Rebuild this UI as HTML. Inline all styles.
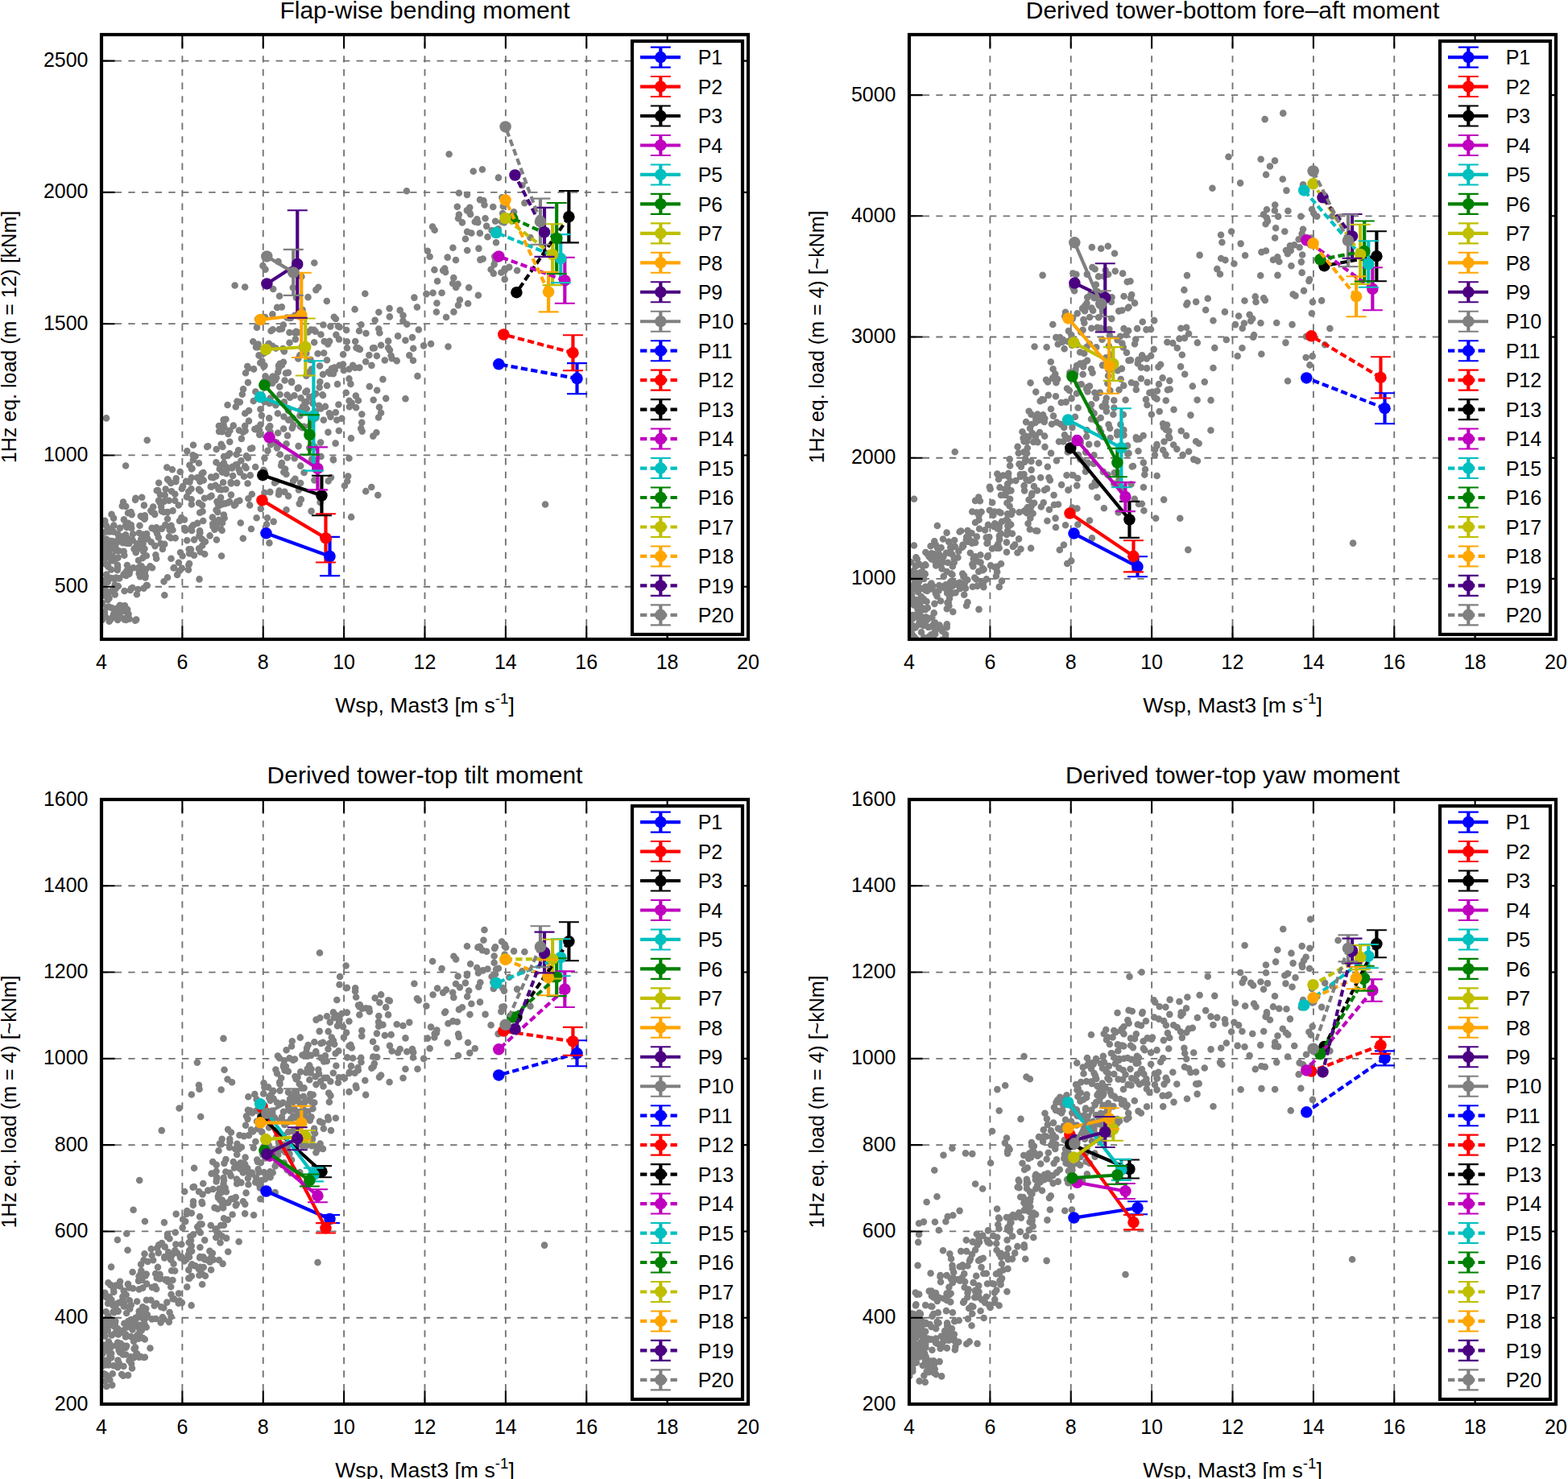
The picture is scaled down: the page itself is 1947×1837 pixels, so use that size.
<!DOCTYPE html><html><head><meta charset="utf-8"><title>chart</title><style>html,body{margin:0;padding:0;background:#fff;font-family:"Liberation Sans",sans-serif}svg{display:block}svg text{font-family:"Liberation Sans",sans-serif;fill:#000}</style></head><body><svg width="1947" height="1837" viewBox="0 0 1947 1837">
<rect width="1947" height="1837" fill="#fff"/>
<clipPath id="clip0"><rect x="126" y="43" width="803" height="751"/></clipPath>
<path d="M226.38 794V43M326.75 794V43M427.12 794V43M527.5 794V43M627.88 794V43M728.25 794V43M828.62 794V43M126 728.7H929M126 565.43H929M126 402.17H929M126 238.91H929M126 75.65H929" fill="none" stroke="#727272" stroke-width="1.85" stroke-dasharray="8.33 8.33"/>
<g clip-path="url(#clip0)">
<path d="M147.64 666.32h0M136.43 657.15h0M126.71 749.13h0M135.79 683.2h0M134.05 739.86h0M130.64 674.25h0M138.39 734.3h0M146.42 663.29h0M129.95 693.66h0M140.4 718.48h0M142.86 732h0M129.01 739.77h0M129.18 720.79h0M129.57 688.82h0M134.45 703.84h0M130.3 670.08h0M131.97 652.68h0M143.28 678.47h0M142.77 738.49h0M131.86 669.49h0M137.18 682.17h0M148.9 655.89h0M134.44 672.15h0M134 720.69h0M130.22 646.93h0M134.44 656.85h0M134.92 690.93h0M135.9 660.36h0M134.05 691.64h0M133.7 722.95h0M130.21 688.05h0M141.09 643.65h0M138.17 707.49h0M137.06 679.73h0M146.31 755.03h0M144.16 730.34h0M138 696.34h0M130.19 646.81h0M141.34 652.61h0M148.85 751.68h0M138.06 695.89h0M149.07 759.63h0M148.16 718.41h0M144.25 717.61h0M146.75 727.97h0M142.71 726.17h0M137.7 717.98h0M131.74 734.14h0M131.62 734.67h0M141.57 696.31h0M136.41 689.57h0M147.74 684.27h0M131.56 700.91h0M132.23 713.56h0M143.92 684.06h0M139.27 690.54h0M128.12 731.42h0M133.77 745.26h0M145.75 708.08h0M139.41 681.15h0M128.54 680.44h0M126.22 663.69h0M126.59 722.41h0M139.93 672.34h0M140.98 660.53h0M140.49 681.08h0M145.91 701.83h0M132.34 680.45h0M146.49 692.65h0M138.21 659.93h0M131.45 660.41h0M136.61 671.76h0M132.13 683.81h0M146.14 704.85h0M146.84 669.91h0M146.15 672.96h0M150.73 672.07h0M138.67 673.75h0M135.51 743.14h0M128.79 725.77h0M163.25 655.92h0M175.09 669.7h0M156.68 714.92h0M160.48 675.07h0M158.54 668.9h0M164.45 729.94h0M168.5 618.69h0M172.73 662.06h0M151.73 628.45h0M173.95 716.17h0M172.59 704.66h0M152.34 752.88h0M162.77 652.08h0M156.3 629.05h0M159.19 649.91h0M171.39 732h0M158.99 637.23h0M156.21 651.97h0M162.57 636.13h0M173.49 652.69h0M166.56 681.9h0M173.76 679.61h0M175.94 641.85h0M157.28 709h0M175.37 703.66h0M153.5 713.58h0M167.86 680.69h0M168.01 620.83h0M165.61 705.28h0M154.56 733.93h0M152.9 666.28h0M153.01 623.53h0M160.46 712.64h0M153.64 684.9h0M169.9 738.28h0M172.72 712.53h0M157.95 702h0M156.11 664.19h0M165.03 663.21h0M155.38 711.75h0M172.02 696.07h0M164.61 670.84h0M175.74 703.3h0M161.21 706.43h0M172.55 707.89h0M153.62 672.67h0M153.89 645.36h0M157.13 674.65h0M173.18 704.87h0M163.64 639.1h0M168.76 686.24h0M152.6 674.31h0M158.8 761.96h0M160.87 710.04h0M174.75 640.99h0M161.78 733.05h0M172.8 681.05h0M170.14 675.29h0M157.43 655.06h0M154.35 689.68h0M195.97 608.95h0M192.47 678.15h0M177.23 670.79h0M199.61 675.15h0M190.19 629.44h0M180.32 717.41h0M179.49 681.56h0M179.77 711.36h0M198.96 614.54h0M200.95 656.64h0M181.71 665.81h0M181.73 727.17h0M188.58 655.89h0M183.43 669.36h0M200.74 634.75h0M193.15 658.74h0M197.18 599.81h0M182.17 662.98h0M198.53 624.26h0M194.7 609.21h0M193.36 689.18h0M177.6 675.08h0M180.63 715.57h0M197.06 621.68h0M187.71 673.33h0M194.23 655.31h0M194.14 693.73h0M178.05 684.96h0M178.49 730.64h0M179.37 644.68h0M178.89 627.62h0M181.86 690.22h0M191.67 637.53h0M176.32 706.44h0M200.12 629.47h0M195.17 662.75h0M188.62 635.92h0M186.43 703.21h0M179.83 640.24h0M196.81 667.57h0M192.21 638.92h0M198.52 622.36h0M182.8 727.17h0M177.63 663.76h0M187.34 634.23h0M188.96 705.19h0M198.35 623.66h0M177.21 693.08h0M179.92 643.55h0M181.21 706.93h0M225.33 643.13h0M208.02 717.27h0M218.33 598.18h0M212.18 668.31h0M213.89 583.29h0M207.28 580.58h0M212.21 599.95h0M204.32 739.31h0M213.08 610.32h0M220.11 713.9h0M212.49 693.78h0M209.81 621.76h0M217.75 668.33h0M208.05 595.27h0M210.54 666.43h0M212.52 652.83h0M209.2 596.42h0M210.64 658.11h0M209.84 666.67h0M204.75 614.93h0M223.67 585.99h0M203.52 722.33h0M217.17 621.69h0M208 644.48h0M221.92 698.68h0M212.56 654.34h0M222.55 709.24h0M201.86 682.03h0M216.08 705.07h0M221.72 627.48h0M225.84 607.06h0M204.25 675.88h0M208.09 636.1h0M214.44 658.33h0M215.56 705.55h0M205.31 652.09h0M223 646.96h0M205.68 607.61h0M214.58 634.41h0M217.34 613.79h0M218.67 594.41h0M203.35 636.07h0M223.99 686.19h0M225.88 705.83h0M203.9 622.83h0M248.36 661.75h0M239.84 571.21h0M232.29 560.34h0M238.13 659.03h0M248.15 636.74h0M237.82 626.42h0M247.53 719.38h0M236.29 686.01h0M242.57 566.78h0M239.56 565.24h0M239.95 652.36h0M228.99 645.57h0M251.13 627.46h0M237.88 582.38h0M249.2 592.09h0M230.21 658.74h0M235.36 577.77h0M235.54 598.62h0M250.6 594.17h0M241.09 670.42h0M231.09 597.75h0M237.47 607.31h0M244.87 593.24h0M234.62 682.27h0M240.95 689.74h0M234.26 701.76h0M248.08 660.48h0M240.01 552.71h0M237.65 620.31h0M237.69 654.97h0M250.61 588.28h0M226.63 690.47h0M235.07 699.97h0M235.17 687.56h0M248.77 609.71h0M227.1 603.98h0M231.91 617.16h0M247.4 665.62h0M246.99 624.71h0M248.41 598.21h0M251.14 677.74h0M237.02 682.42h0M232.25 671.21h0M247.02 681.26h0M229.19 655.99h0M248.69 685.53h0M246.91 575.27h0M233.93 707.68h0M238.5 581.88h0M248.08 659.2h0M234.26 610.63h0M246.94 607.86h0M250.69 669.45h0M237.78 593.22h0M245.19 649.88h0M268.72 558.01h0M273.25 578.31h0M276.43 554.99h0M272.72 582.45h0M274.67 551.73h0M268.46 574.3h0M268.57 633.42h0M261.73 604.39h0M274.5 657.21h0M264.19 650.73h0M276.02 649.41h0M275.87 536.11h0M271.76 645.91h0M260.41 617.24h0M254.2 688.19h0M254.89 672.75h0M271.11 605.27h0M271.88 529.06h0M270.81 626.11h0M262.52 604.65h0M274.14 617.98h0M263.87 642.57h0M266.47 657.61h0M253.94 618.73h0M268.92 670.45h0M252.23 647h0M264.92 593.31h0M275.93 586.56h0M275.65 658.67h0M258.29 554.19h0M267.61 602.92h0M260.63 665.42h0M264.48 653.93h0M272.06 535.85h0M270.28 635.89h0M262.59 615.88h0M268.55 652.22h0M274.96 608.19h0M272.23 627.97h0M252.76 596.54h0M268.22 591.39h0M251.57 635.18h0M269.43 623.04h0M252.43 586.97h0M269.12 648.44h0M273.55 623.11h0M257.2 554.89h0M271.49 607.75h0M262.09 592.62h0M276.35 626.2h0M282.8 565.91h0M277.46 576.9h0M285.28 548.69h0M283.13 624.37h0M289.79 528.66h0M293.92 623.42h0M278.53 531.18h0M288.63 579.71h0M289.17 591.04h0M278 574.93h0M294.14 576.99h0M280.29 607.79h0M285.2 563.38h0M299.41 572.28h0M283.26 538.84h0M298.02 586.73h0M277.49 526.89h0M281.12 588.29h0M285.45 534.82h0M286.95 600.44h0M285 623.1h0M277.13 599.31h0M299.88 544.87h0M286.92 614.6h0M282.55 503.05h0M296.67 583.3h0M293.73 564.4h0M288.05 581.47h0M278.65 643.5h0M294.22 599.84h0M278.05 567.1h0M280.44 520.81h0M292.09 626.73h0M278.41 586.36h0M292.76 505.2h0M280.89 579.96h0M296 559.2h0M277.63 521.39h0M290.98 627.75h0M277.89 639.66h0M297.42 621.7h0M298.76 649.48h0M286.66 599.07h0M279.63 625.41h0M292.79 577.22h0M296.91 534.47h0M300.82 489.73h0M297.83 499.44h0M294.47 498.52h0M283.24 581.67h0M307.95 475.09h0M305.58 581.22h0M311.97 657.06h0M323.85 631.85h0M320.01 396.26h0M320.6 427.46h0M317.94 431.21h0M310.74 590.38h0M314.29 424.27h0M318.64 643.27h0M316.32 533.08h0M304.27 513.43h0M301.94 536.72h0M308.45 457.26h0M307.96 568.68h0M322.84 491.97h0M304.59 535h0M313.18 556.6h0M307.57 600.54h0M320 431.12h0M304.26 579.25h0M324.84 516.12h0M318.96 406.65h0M323.36 508.21h0M310.19 627.42h0M301.77 668.77h0M319.23 531.67h0M311.01 557.24h0M323.45 527.52h0M307.29 455.01h0M317.33 486.55h0M323.25 450.77h0M318.24 533.13h0M322.04 534.23h0M314.74 498.08h0M315.08 458.39h0M305.03 463.31h0M309.07 510.08h0M317.17 580h0M304.16 529.05h0M302.05 483.4h0M308.33 619.27h0M305.92 566.39h0M312.81 613.83h0M308.97 522.86h0M302.96 591.71h0M325.36 448.57h0M326.43 330.13h0M322.2 539.85h0M321.51 441.4h0M345.17 537.81h0M334.42 674.36h0M346.8 408.99h0M333.11 427.44h0M329.5 467.36h0M346.11 552.58h0M335.36 611.09h0M341.56 549.76h0M338.37 390.39h0M327.2 474.57h0M349.95 574.98h0M347.55 489.97h0M334.22 519.37h0M339.69 647.84h0M338.7 467.65h0M336 552.18h0M346.04 614.32h0M347.55 451.79h0M328.15 585.04h0M327.27 583.75h0M347.21 480.4h0M349.85 381.35h0M346.03 453.94h0M328.46 499.29h0M341.06 599.76h0M327.88 438.71h0M327.98 474.13h0M328.48 454.08h0M338.67 409.31h0M329.06 393.97h0M335.2 529.38h0M350.02 408.47h0M343.33 597.93h0M331.95 643.32h0M335.64 494.66h0M346.39 457.24h0M346.46 610.86h0M345.14 462.29h0M349.2 578.15h0M329.48 334.62h0M334 470.96h0M327.53 455.44h0M334.61 500.93h0M343.28 469.3h0M331.05 651.18h0M344.93 513.52h0M346.66 609.67h0M333.4 531.79h0M351.34 432.97h0M349.96 453.38h0M339.24 359.05h0M344.06 556.38h0M334.7 429.62h0M344.12 381.88h0M332.41 559.91h0M332.22 434.39h0M342.39 503.13h0M333.91 426.82h0M347.05 367.73h0M338.17 475.92h0M328.45 569.12h0M341.68 472.33h0M338.3 429.78h0M347.85 564.45h0M345.54 324.88h0M336.56 411.06h0M343.36 549.51h0M335.62 536.52h0M342.17 549.3h0M342.56 432.58h0M328.39 612.05h0M327.31 585.68h0M354.97 463.49h0M371.73 625.62h0M367.7 411.81h0M373.05 509.46h0M353.6 472.44h0M375.4 531.22h0M352.91 436.36h0M374.87 431.61h0M367.89 369.68h0M369.56 412.89h0M352.15 532.58h0M351.89 403.54h0M372.33 441.36h0M352.46 517.54h0M355.56 551.29h0M351.97 449.76h0M359.5 425.69h0M364.02 597.66h0M376.84 506.66h0M356.59 490.51h0M362.06 473.75h0M359.55 394.9h0M362.79 531.67h0M372.44 516.15h0M363.72 519.29h0M358.28 521.82h0M373.57 494.26h0M360.01 493.78h0M366.86 421.35h0M375.6 384.81h0M358.01 509.87h0M358.09 616.17h0M361.13 520.89h0M362.09 475.03h0M357.9 462.87h0M355.44 588.93h0M352.82 501.57h0M363.81 357.25h0M366.01 413.32h0M365.69 569.2h0M353.38 610.9h0M355.58 633.24h0M357.06 541.15h0M365.49 491.22h0M370.74 481.62h0M375.15 429.68h0M373.27 578.67h0M369.71 482.36h0M365.96 391.69h0M359.47 412.93h0M366.46 594.82h0M357.96 507.34h0M352.02 434.48h0M356.68 568.43h0M356.36 394.46h0M370.95 608.52h0M364.15 527.91h0M373.83 620.4h0M361.01 394.88h0M374.4 343.5h0M376.05 505.05h0M370.62 554.09h0M352.29 586.49h0M352.84 499.26h0M372.8 529.6h0M373.15 600.06h0M354.14 582.53h0M370.29 445.42h0M398.55 567h0M392.37 360.15h0M384.78 446.75h0M377.56 587.06h0M401.48 403.57h0M382.6 412.49h0M389.92 409.77h0M392.53 571.9h0M392.27 488.94h0M390.38 596.36h0M398.57 507.36h0M401.82 521.71h0M386.85 458.58h0M384.53 528.96h0M400.99 490.96h0M395.98 503.78h0M386.22 409.61h0M397.31 474.36h0M400.97 465.08h0M384.24 556.37h0M385.26 463.34h0M397.62 623.96h0M380.77 507.74h0M382.49 369.15h0M385.59 446.91h0M388 552.56h0M384.33 493.37h0M392.45 518.93h0M387.07 570.37h0M386.49 527.01h0M379.37 487.04h0M390.29 326.45h0M391.89 511.39h0M378.56 499.18h0M396.69 481.11h0M388.49 500.85h0M390.43 520.2h0M386.57 634.89h0M394.59 439.22h0M390.18 425.27h0M388.71 492.04h0M380.27 499.61h0M400.5 490.42h0M381.78 462.76h0M395.38 356.74h0M392.47 582.71h0M398.46 415.45h0M391.11 555.34h0M380.4 466.67h0M380.31 438.7h0M377.29 529.8h0M397.07 454.54h0M398.12 549.59h0M391.71 411.74h0M381.03 485.5h0M413.95 571.33h0M415.73 459.55h0M418.29 521.74h0M407.21 427.37h0M403.93 504.92h0M413.81 570.65h0M402.79 424.16h0M409.8 464h0M405.98 447.24h0M414.8 393.7h0M421.48 453.74h0M405.8 373.96h0M426.86 459.9h0M410.36 405.35h0M421.67 406.17h0M406.04 478.99h0M426.12 440.21h0M407.8 462.04h0M420.39 502.5h0M416.9 396.01h0M416.61 550.66h0M410.98 593.1h0M410.46 517.6h0M419.95 405.15h0M407.41 536.84h0M419.01 477.14h0M402.16 438.51h0M408.85 513.22h0M409.11 423.68h0M413.85 464.28h0M416.83 512.29h0M424.4 519.76h0M408.23 424.81h0M415.17 456.59h0M411.82 457.83h0M421.02 421.42h0M426.01 452.54h0M417.37 415.86h0M407.69 597.43h0M420.83 535.03h0M433.62 497.75h0M435.95 544.35h0M441.2 424.04h0M444.4 432.92h0M442.5 432.07h0M436.73 500.66h0M448.21 532.15h0M449.3 514.51h0M429.74 487.79h0M449.24 524.87h0M441.86 491.6h0M441.07 456.78h0M430.92 432.21h0M449.66 535.61h0M433.47 470.42h0M438.14 453.9h0M446.86 433.91h0M448.47 403.23h0M430.14 410.02h0M431.21 597.67h0M435.4 476.88h0M442.13 506.31h0M430.83 424.21h0M440.58 384.17h0M444.75 432.34h0M433.88 505.24h0M444.94 497.47h0M427.92 603.29h0M433.47 569.2h0M446.35 456.6h0M446.04 410.93h0M433.5 458.44h0M458.8 479.96h0M467.93 442.08h0M473.09 512.79h0M463.35 541.65h0M475.43 471.16h0M470.05 518.56h0M454.5 414h0M464.82 432.24h0M470.23 408.45h0M463.7 496.73h0M458.33 441.12h0M465.64 397.71h0M471.37 413.52h0M468.19 484.7h0M473.11 428.73h0M461.44 453.89h0M453.31 364.7h0M467.4 537.25h0M454.16 449.29h0M470.98 505.71h0M463.04 432.4h0M470.32 387.78h0M482.15 423.64h0M500.53 391.72h0M483.94 434.84h0M492.74 448.17h0M479.2 494.85h0M482.08 432.07h0M500.42 398.56h0M485.63 441.71h0M486.62 445.14h0M496.74 385.4h0M483.59 383.1h0M494.14 417.4h0M477.83 447.48h0M483.84 393.38h0M503.47 495.21h0M505.26 402.79h0M514.39 369.59h0M526.09 429.35h0M517.9 381.49h0M513.2 432.82h0M519.82 409.44h0M503.43 422.68h0M513.01 447.72h0M508.3 441.37h0M511.98 419.1h0M518.47 467.14h0M537.62 363.83h0M552.22 333.62h0M543.09 349.26h0M548.6 363.7h0M550.18 335.85h0M529.39 365.14h0M542.45 376.49h0M530.92 311.83h0M537.11 281.62h0M539.7 285.72h0M535.08 427.11h0M539.42 335.17h0M541.9 387.56h0M533.67 318.75h0M553.15 338.04h0M569.07 271.19h0M563.41 387.39h0M562.4 307.68h0M568.62 352.92h0M562.21 351.94h0M569.9 266.6h0M555.7 319.65h0M567.8 256.8h0M569.92 239.79h0M570.96 372.57h0M573.94 276.38h0M554.05 393.99h0M568.97 379.11h0M556.5 430.57h0M566 322.95h0M566.17 356.91h0M563.31 345.16h0M583.3 257.75h0M577.93 296.74h0M580.12 287.85h0M592.28 272.26h0M580.21 310.94h0M579.85 261.37h0M584.12 266.18h0M595.88 289.64h0M596.03 248.11h0M594.43 308.59h0M601.5 254.56h0M598.9 210.45h0M602.59 271.26h0M582.18 357.31h0M585.33 289.47h0M589.77 275.49h0M593.41 276.22h0M579.98 241.87h0M593.9 366.8h0M600.45 249.39h0M599.72 321.46h0M596.35 322.62h0M583.46 264.54h0M581.1 377.03h0M604.19 280.91h0M625.84 336.52h0M624.16 264.94h0M614.15 318.65h0M626.69 333.89h0M626.93 335.51h0M626.71 346.9h0M622.36 338.43h0M612.3 257h0M614.99 322.97h0M615.08 274.78h0M610.62 286.18h0M616.01 301.2h0M626.02 276.55h0M618.62 284.22h0M613.66 289.73h0M612.83 339.61h0M605.51 294.27h0M623.37 245.3h0M624.84 256.18h0M623.09 275.51h0M609.62 334.69h0M618.96 220.63h0M613.66 328.41h0M628.18 269.15h0M638.1 263.22h0M648.35 230.19h0M632.27 331.84h0M651.38 252.17h0M642.16 335.93h0M658.51 295.1h0M148.08 764.24h0M132.61 754.25h0M126.31 761.62h0M168.83 770.16h0M152.43 759.31h0M127.95 764.12h0M159.54 762.65h0M160.57 768.61h0M137.35 769.55h0M150.14 753.09h0M154.15 756.12h0M144.29 756.69h0M130.85 765.9h0M158.15 757.11h0M146.11 770.02h0M138.72 767.55h0M139.41 755.41h0M135.51 753.85h0M167.93 770.69h0M144.06 761.84h0M127.12 763.2h0M169.22 769.53h0M154.46 769.34h0M153.59 753.67h0M135.68 771.63h0M129.98 760.87h0M126.83 770.08h0M149.68 753.15h0M146.03 763.74h0M156.45 769.91h0M153.64 768.3h0M155.03 752.4h0M128.58 760.56h0M154.91 768.77h0M132.02 519.4h0M182.71 546.82h0M291.62 354.5h0M677.06 626.49h0M275.06 690.49h0M436.16 642.17h0M469.28 615.07h0M461.25 604.94h0M454.23 610.17h0M432.14 591.56h0M138.55 638.9h0M156.11 578.5h0M176.19 617.68h0M141.06 762.98h0M504.92 237.28h0M557.61 191.57h0M587.72 212.79h0M304.17 356.46h0" fill="none" stroke="#808080" stroke-width="8.6" stroke-linecap="round"/>
</g>
<path d="M409.5 666.9V715.1" stroke="#0000ff" stroke-width="4.17" fill="none"/>
<path d="M404.47 638.3V698.5" stroke="#ff0000" stroke-width="4.17" fill="none"/>
<path d="M399.44 590.7V640.3" stroke="#000000" stroke-width="4.17" fill="none"/>
<path d="M394.41 555.4V608.4" stroke="#bf00bf" stroke-width="4.17" fill="none"/>
<path d="M389.38 448.2V584.6" stroke="#00bfbf" stroke-width="4.17" fill="none"/>
<path d="M384.35 515.4V564.6" stroke="#008000" stroke-width="4.17" fill="none"/>
<path d="M379.32 395.5V466.5" stroke="#bfbf00" stroke-width="4.17" fill="none"/>
<path d="M374.29 338.8V444" stroke="#ffa500" stroke-width="4.17" fill="none"/>
<path d="M369.26 261.3V394.7" stroke="#4b0082" stroke-width="4.17" fill="none"/>
<path d="M364.23 309.9V366.9" stroke="#808080" stroke-width="4.17" fill="none"/>
<path d="M716.5 451.1V489.1" stroke="#0000ff" stroke-width="4.17" fill="none"/>
<path d="M711.44 416.2V460.2" stroke="#ff0000" stroke-width="4.17" fill="none"/>
<path d="M706.38 237V301.4" stroke="#000000" stroke-width="4.17" fill="none"/>
<path d="M701.32 319.8V376.8" stroke="#bf00bf" stroke-width="4.17" fill="none"/>
<path d="M696.26 291.1V351.1" stroke="#00bfbf" stroke-width="4.17" fill="none"/>
<path d="M691.2 252V340" stroke="#008000" stroke-width="4.17" fill="none"/>
<path d="M686.14 278.3V354.1" stroke="#bfbf00" stroke-width="4.17" fill="none"/>
<path d="M681.08 337.8V387.4" stroke="#ffa500" stroke-width="4.17" fill="none"/>
<path d="M676.02 257.9V318.9" stroke="#4b0082" stroke-width="4.17" fill="none"/>
<path d="M670.96 246.6V303.8" stroke="#808080" stroke-width="4.17" fill="none"/>
<path d="M409.5 691L330.5 662.3" stroke="#0000ff" stroke-width="4.17" fill="none"/>
<circle cx="330.5" cy="662.3" r="7.25" fill="#0000ff"/><circle cx="409.5" cy="691" r="7.25" fill="#0000ff"/>
<path d="M397 666.9h25M397 715.1h25" stroke="#0000ff" stroke-width="2.08" fill="none"/>
<path d="M404.47 668.4L325.45 621.4" stroke="#ff0000" stroke-width="4.17" fill="none"/>
<circle cx="325.45" cy="621.4" r="7.25" fill="#ff0000"/><circle cx="404.47" cy="668.4" r="7.25" fill="#ff0000"/>
<path d="M391.97 638.3h25M391.97 698.5h25" stroke="#ff0000" stroke-width="2.08" fill="none"/>
<path d="M399.44 615.5L326.3 590.2" stroke="#000000" stroke-width="4.17" fill="none"/>
<circle cx="326.3" cy="590.2" r="7.25" fill="#000000"/><circle cx="399.44" cy="615.5" r="7.25" fill="#000000"/>
<path d="M386.94 590.7h25M386.94 640.3h25" stroke="#000000" stroke-width="2.08" fill="none"/>
<path d="M394.41 581.9L334.55 543.3" stroke="#bf00bf" stroke-width="4.17" fill="none"/>
<circle cx="334.55" cy="543.3" r="7.25" fill="#bf00bf"/><circle cx="394.41" cy="581.9" r="7.25" fill="#bf00bf"/>
<path d="M381.91 555.4h25M381.91 608.4h25" stroke="#bf00bf" stroke-width="2.08" fill="none"/>
<path d="M389.38 516.4L323.2 493.2" stroke="#00bfbf" stroke-width="4.17" fill="none"/>
<circle cx="323.2" cy="493.2" r="7.25" fill="#00bfbf"/><circle cx="389.38" cy="516.4" r="7.25" fill="#00bfbf"/>
<path d="M376.88 448.2h25M376.88 584.6h25" stroke="#00bfbf" stroke-width="2.08" fill="none"/>
<path d="M384.35 540L328.4 478.4" stroke="#008000" stroke-width="4.17" fill="none"/>
<circle cx="328.4" cy="478.4" r="7.25" fill="#008000"/><circle cx="384.35" cy="540" r="7.25" fill="#008000"/>
<path d="M371.85 515.4h25M371.85 564.6h25" stroke="#008000" stroke-width="2.08" fill="none"/>
<path d="M379.32 431L330.2 434" stroke="#bfbf00" stroke-width="4.17" fill="none"/>
<circle cx="330.2" cy="434" r="7.25" fill="#bfbf00"/><circle cx="379.32" cy="431" r="7.25" fill="#bfbf00"/>
<path d="M366.82 395.5h25M366.82 466.5h25" stroke="#bfbf00" stroke-width="2.08" fill="none"/>
<path d="M374.29 391.4L323.4 397" stroke="#ffa500" stroke-width="4.17" fill="none"/>
<circle cx="323.4" cy="397" r="7.25" fill="#ffa500"/><circle cx="374.29" cy="391.4" r="7.25" fill="#ffa500"/>
<path d="M361.79 338.8h25M361.79 444h25" stroke="#ffa500" stroke-width="2.08" fill="none"/>
<path d="M369.26 328L331.4 352.4" stroke="#4b0082" stroke-width="4.17" fill="none"/>
<circle cx="331.4" cy="352.4" r="7.25" fill="#4b0082"/><circle cx="369.26" cy="328" r="7.25" fill="#4b0082"/>
<path d="M356.76 261.3h25M356.76 394.7h25" stroke="#4b0082" stroke-width="2.08" fill="none"/>
<path d="M364.23 338.4L331.3 318.4" stroke="#808080" stroke-width="4.17" fill="none"/>
<circle cx="331.3" cy="318.4" r="7.25" fill="#808080"/><circle cx="364.23" cy="338.4" r="7.25" fill="#808080"/>
<path d="M351.73 309.9h25M351.73 366.9h25" stroke="#808080" stroke-width="2.08" fill="none"/>
<path d="M716.5 470.1L619.3 452.3" stroke="#0000ff" stroke-width="4.17" fill="none" stroke-dasharray="8.33 4.17"/>
<circle cx="619.3" cy="452.3" r="7.25" fill="#0000ff"/><circle cx="716.5" cy="470.1" r="7.25" fill="#0000ff"/>
<path d="M704 451.1h25M704 489.1h25" stroke="#0000ff" stroke-width="2.08" fill="none"/>
<path d="M711.44 438.2L625.3 415.5" stroke="#ff0000" stroke-width="4.17" fill="none" stroke-dasharray="8.33 4.17"/>
<circle cx="625.3" cy="415.5" r="7.25" fill="#ff0000"/><circle cx="711.44" cy="438.2" r="7.25" fill="#ff0000"/>
<path d="M698.94 416.2h25M698.94 460.2h25" stroke="#ff0000" stroke-width="2.08" fill="none"/>
<path d="M706.38 269.2L641.4 363.2" stroke="#000000" stroke-width="4.17" fill="none" stroke-dasharray="8.33 4.17"/>
<circle cx="641.4" cy="363.2" r="7.25" fill="#000000"/><circle cx="706.38" cy="269.2" r="7.25" fill="#000000"/>
<path d="M693.88 237h25M693.88 301.4h25" stroke="#000000" stroke-width="2.08" fill="none"/>
<path d="M701.32 348.3L619.3 318.4" stroke="#bf00bf" stroke-width="4.17" fill="none" stroke-dasharray="8.33 4.17"/>
<circle cx="619.3" cy="318.4" r="7.25" fill="#bf00bf"/><circle cx="701.32" cy="348.3" r="7.25" fill="#bf00bf"/>
<path d="M688.82 319.8h25M688.82 376.8h25" stroke="#bf00bf" stroke-width="2.08" fill="none"/>
<path d="M696.26 321.1L616.2 289" stroke="#00bfbf" stroke-width="4.17" fill="none" stroke-dasharray="8.33 4.17"/>
<circle cx="616.2" cy="289" r="7.25" fill="#00bfbf"/><circle cx="696.26" cy="321.1" r="7.25" fill="#00bfbf"/>
<path d="M683.76 291.1h25M683.76 351.1h25" stroke="#00bfbf" stroke-width="2.08" fill="none"/>
<path d="M691.2 296L636.3 271.3" stroke="#008000" stroke-width="4.17" fill="none" stroke-dasharray="8.33 4.17"/>
<circle cx="636.3" cy="271.3" r="7.25" fill="#008000"/><circle cx="691.2" cy="296" r="7.25" fill="#008000"/>
<path d="M678.7 252h25M678.7 340h25" stroke="#008000" stroke-width="2.08" fill="none"/>
<path d="M686.14 316.2L627.5 271" stroke="#bfbf00" stroke-width="4.17" fill="none" stroke-dasharray="8.33 4.17"/>
<circle cx="627.5" cy="271" r="7.25" fill="#bfbf00"/><circle cx="686.14" cy="316.2" r="7.25" fill="#bfbf00"/>
<path d="M673.64 278.3h25M673.64 354.1h25" stroke="#bfbf00" stroke-width="2.08" fill="none"/>
<path d="M681.08 362.6L627.5 248.5" stroke="#ffa500" stroke-width="4.17" fill="none" stroke-dasharray="8.33 4.17"/>
<circle cx="627.5" cy="248.5" r="7.25" fill="#ffa500"/><circle cx="681.08" cy="362.6" r="7.25" fill="#ffa500"/>
<path d="M668.58 337.8h25M668.58 387.4h25" stroke="#ffa500" stroke-width="2.08" fill="none"/>
<path d="M676.02 288.4L639.5 217.5" stroke="#4b0082" stroke-width="4.17" fill="none" stroke-dasharray="8.33 4.17"/>
<circle cx="639.5" cy="217.5" r="7.25" fill="#4b0082"/><circle cx="676.02" cy="288.4" r="7.25" fill="#4b0082"/>
<path d="M663.52 257.9h25M663.52 318.9h25" stroke="#4b0082" stroke-width="2.08" fill="none"/>
<path d="M670.96 275.2L627.6 157.4" stroke="#808080" stroke-width="4.17" fill="none" stroke-dasharray="8.33 4.17"/>
<circle cx="627.6" cy="157.4" r="7.25" fill="#808080"/><circle cx="670.96" cy="275.2" r="7.25" fill="#808080"/>
<path d="M658.46 246.6h25M658.46 303.8h25" stroke="#808080" stroke-width="2.08" fill="none"/>
<path d="M126 794v-16.7M126 43v16.7M226.38 794v-16.7M226.38 43v16.7M326.75 794v-16.7M326.75 43v16.7M427.12 794v-16.7M427.12 43v16.7M527.5 794v-16.7M527.5 43v16.7M627.88 794v-16.7M627.88 43v16.7M728.25 794v-16.7M728.25 43v16.7M828.62 794v-16.7M828.62 43v16.7M929 794v-16.7M929 43v16.7M126 728.7h16.7M929 728.7h-16.7M126 565.43h16.7M929 565.43h-16.7M126 402.17h16.7M929 402.17h-16.7M126 238.91h16.7M929 238.91h-16.7M126 75.65h16.7M929 75.65h-16.7" fill="none" stroke="#000" stroke-width="2.08"/>
<rect x="126" y="43" width="803" height="751" fill="none" stroke="#000" stroke-width="4.17"/>
<text x="126" y="830.8" font-size="25" text-anchor="middle">4</text>
<text x="226.38" y="830.8" font-size="25" text-anchor="middle">6</text>
<text x="326.75" y="830.8" font-size="25" text-anchor="middle">8</text>
<text x="427.12" y="830.8" font-size="25" text-anchor="middle">10</text>
<text x="527.5" y="830.8" font-size="25" text-anchor="middle">12</text>
<text x="627.88" y="830.8" font-size="25" text-anchor="middle">14</text>
<text x="728.25" y="830.8" font-size="25" text-anchor="middle">16</text>
<text x="828.62" y="830.8" font-size="25" text-anchor="middle">18</text>
<text x="929" y="830.8" font-size="25" text-anchor="middle">20</text>
<text x="109.5" y="736.2" font-size="25" text-anchor="end">500</text>
<text x="109.5" y="572.93" font-size="25" text-anchor="end">1000</text>
<text x="109.5" y="409.67" font-size="25" text-anchor="end">1500</text>
<text x="109.5" y="246.41" font-size="25" text-anchor="end">2000</text>
<text x="109.5" y="83.15" font-size="25" text-anchor="end">2500</text>
<text x="527.5" y="22.8" font-size="30" text-anchor="middle">Flap-wise bending moment</text>
<text transform="translate(19.6 418.5) rotate(-90)" font-size="25" text-anchor="middle">1Hz eq. load (m = 12) [kNm]</text>
<text x="527.5" y="884.5" font-size="26.7" text-anchor="middle">Wsp, Mast3 [m s<tspan dy="-10.7" font-size="18.7">-1</tspan><tspan dy="10.7">]</tspan></text>
<rect x="785" y="51.1" width="137" height="736.9" fill="#fff" stroke="#000" stroke-width="4.17"/>
<path d="M795 71.1H845" stroke="#0000ff" stroke-width="4.17" fill="none"/>
<path d="M820.3 58.6V83.6" stroke="#0000ff" stroke-width="4.17" fill="none"/>
<circle cx="820.3" cy="71.1" r="7.25" fill="#0000ff"/>
<path d="M807.8 58.6h25M807.8 83.6h25" stroke="#0000ff" stroke-width="2.08" fill="none"/>
<text x="866.7" y="80.3" font-size="25">P1</text>
<path d="M795 107.56H845" stroke="#ff0000" stroke-width="4.17" fill="none"/>
<path d="M820.3 95.06V120.06" stroke="#ff0000" stroke-width="4.17" fill="none"/>
<circle cx="820.3" cy="107.56" r="7.25" fill="#ff0000"/>
<path d="M807.8 95.06h25M807.8 120.06h25" stroke="#ff0000" stroke-width="2.08" fill="none"/>
<text x="866.7" y="116.76" font-size="25">P2</text>
<path d="M795 144.02H845" stroke="#000000" stroke-width="4.17" fill="none"/>
<path d="M820.3 131.52V156.52" stroke="#000000" stroke-width="4.17" fill="none"/>
<circle cx="820.3" cy="144.02" r="7.25" fill="#000000"/>
<path d="M807.8 131.52h25M807.8 156.52h25" stroke="#000000" stroke-width="2.08" fill="none"/>
<text x="866.7" y="153.22" font-size="25">P3</text>
<path d="M795 180.48H845" stroke="#bf00bf" stroke-width="4.17" fill="none"/>
<path d="M820.3 167.98V192.98" stroke="#bf00bf" stroke-width="4.17" fill="none"/>
<circle cx="820.3" cy="180.48" r="7.25" fill="#bf00bf"/>
<path d="M807.8 167.98h25M807.8 192.98h25" stroke="#bf00bf" stroke-width="2.08" fill="none"/>
<text x="866.7" y="189.68" font-size="25">P4</text>
<path d="M795 216.94H845" stroke="#00bfbf" stroke-width="4.17" fill="none"/>
<path d="M820.3 204.44V229.44" stroke="#00bfbf" stroke-width="4.17" fill="none"/>
<circle cx="820.3" cy="216.94" r="7.25" fill="#00bfbf"/>
<path d="M807.8 204.44h25M807.8 229.44h25" stroke="#00bfbf" stroke-width="2.08" fill="none"/>
<text x="866.7" y="226.14" font-size="25">P5</text>
<path d="M795 253.4H845" stroke="#008000" stroke-width="4.17" fill="none"/>
<path d="M820.3 240.9V265.9" stroke="#008000" stroke-width="4.17" fill="none"/>
<circle cx="820.3" cy="253.4" r="7.25" fill="#008000"/>
<path d="M807.8 240.9h25M807.8 265.9h25" stroke="#008000" stroke-width="2.08" fill="none"/>
<text x="866.7" y="262.6" font-size="25">P6</text>
<path d="M795 289.86H845" stroke="#bfbf00" stroke-width="4.17" fill="none"/>
<path d="M820.3 277.36V302.36" stroke="#bfbf00" stroke-width="4.17" fill="none"/>
<circle cx="820.3" cy="289.86" r="7.25" fill="#bfbf00"/>
<path d="M807.8 277.36h25M807.8 302.36h25" stroke="#bfbf00" stroke-width="2.08" fill="none"/>
<text x="866.7" y="299.06" font-size="25">P7</text>
<path d="M795 326.32H845" stroke="#ffa500" stroke-width="4.17" fill="none"/>
<path d="M820.3 313.82V338.82" stroke="#ffa500" stroke-width="4.17" fill="none"/>
<circle cx="820.3" cy="326.32" r="7.25" fill="#ffa500"/>
<path d="M807.8 313.82h25M807.8 338.82h25" stroke="#ffa500" stroke-width="2.08" fill="none"/>
<text x="866.7" y="335.52" font-size="25">P8</text>
<path d="M795 362.78H845" stroke="#4b0082" stroke-width="4.17" fill="none"/>
<path d="M820.3 350.28V375.28" stroke="#4b0082" stroke-width="4.17" fill="none"/>
<circle cx="820.3" cy="362.78" r="7.25" fill="#4b0082"/>
<path d="M807.8 350.28h25M807.8 375.28h25" stroke="#4b0082" stroke-width="2.08" fill="none"/>
<text x="866.7" y="371.98" font-size="25">P9</text>
<path d="M795 399.24H845" stroke="#808080" stroke-width="4.17" fill="none"/>
<path d="M820.3 386.74V411.74" stroke="#808080" stroke-width="4.17" fill="none"/>
<circle cx="820.3" cy="399.24" r="7.25" fill="#808080"/>
<path d="M807.8 386.74h25M807.8 411.74h25" stroke="#808080" stroke-width="2.08" fill="none"/>
<text x="866.7" y="408.44" font-size="25">P10</text>
<path d="M795 435.7H845" stroke="#0000ff" stroke-width="4.17" fill="none" stroke-dasharray="8.33 4.17"/>
<path d="M820.3 423.2V448.2" stroke="#0000ff" stroke-width="4.17" fill="none"/>
<circle cx="820.3" cy="435.7" r="7.25" fill="#0000ff"/>
<path d="M807.8 423.2h25M807.8 448.2h25" stroke="#0000ff" stroke-width="2.08" fill="none"/>
<text x="866.7" y="444.9" font-size="25">P11</text>
<path d="M795 472.16H845" stroke="#ff0000" stroke-width="4.17" fill="none" stroke-dasharray="8.33 4.17"/>
<path d="M820.3 459.66V484.66" stroke="#ff0000" stroke-width="4.17" fill="none"/>
<circle cx="820.3" cy="472.16" r="7.25" fill="#ff0000"/>
<path d="M807.8 459.66h25M807.8 484.66h25" stroke="#ff0000" stroke-width="2.08" fill="none"/>
<text x="866.7" y="481.36" font-size="25">P12</text>
<path d="M795 508.62H845" stroke="#000000" stroke-width="4.17" fill="none" stroke-dasharray="8.33 4.17"/>
<path d="M820.3 496.12V521.12" stroke="#000000" stroke-width="4.17" fill="none"/>
<circle cx="820.3" cy="508.62" r="7.25" fill="#000000"/>
<path d="M807.8 496.12h25M807.8 521.12h25" stroke="#000000" stroke-width="2.08" fill="none"/>
<text x="866.7" y="517.82" font-size="25">P13</text>
<path d="M795 545.08H845" stroke="#bf00bf" stroke-width="4.17" fill="none" stroke-dasharray="8.33 4.17"/>
<path d="M820.3 532.58V557.58" stroke="#bf00bf" stroke-width="4.17" fill="none"/>
<circle cx="820.3" cy="545.08" r="7.25" fill="#bf00bf"/>
<path d="M807.8 532.58h25M807.8 557.58h25" stroke="#bf00bf" stroke-width="2.08" fill="none"/>
<text x="866.7" y="554.28" font-size="25">P14</text>
<path d="M795 581.54H845" stroke="#00bfbf" stroke-width="4.17" fill="none" stroke-dasharray="8.33 4.17"/>
<path d="M820.3 569.04V594.04" stroke="#00bfbf" stroke-width="4.17" fill="none"/>
<circle cx="820.3" cy="581.54" r="7.25" fill="#00bfbf"/>
<path d="M807.8 569.04h25M807.8 594.04h25" stroke="#00bfbf" stroke-width="2.08" fill="none"/>
<text x="866.7" y="590.74" font-size="25">P15</text>
<path d="M795 618H845" stroke="#008000" stroke-width="4.17" fill="none" stroke-dasharray="8.33 4.17"/>
<path d="M820.3 605.5V630.5" stroke="#008000" stroke-width="4.17" fill="none"/>
<circle cx="820.3" cy="618" r="7.25" fill="#008000"/>
<path d="M807.8 605.5h25M807.8 630.5h25" stroke="#008000" stroke-width="2.08" fill="none"/>
<text x="866.7" y="627.2" font-size="25">P16</text>
<path d="M795 654.46H845" stroke="#bfbf00" stroke-width="4.17" fill="none" stroke-dasharray="8.33 4.17"/>
<path d="M820.3 641.96V666.96" stroke="#bfbf00" stroke-width="4.17" fill="none"/>
<circle cx="820.3" cy="654.46" r="7.25" fill="#bfbf00"/>
<path d="M807.8 641.96h25M807.8 666.96h25" stroke="#bfbf00" stroke-width="2.08" fill="none"/>
<text x="866.7" y="663.66" font-size="25">P17</text>
<path d="M795 690.92H845" stroke="#ffa500" stroke-width="4.17" fill="none" stroke-dasharray="8.33 4.17"/>
<path d="M820.3 678.42V703.42" stroke="#ffa500" stroke-width="4.17" fill="none"/>
<circle cx="820.3" cy="690.92" r="7.25" fill="#ffa500"/>
<path d="M807.8 678.42h25M807.8 703.42h25" stroke="#ffa500" stroke-width="2.08" fill="none"/>
<text x="866.7" y="700.12" font-size="25">P18</text>
<path d="M795 727.38H845" stroke="#4b0082" stroke-width="4.17" fill="none" stroke-dasharray="8.33 4.17"/>
<path d="M820.3 714.88V739.88" stroke="#4b0082" stroke-width="4.17" fill="none"/>
<circle cx="820.3" cy="727.38" r="7.25" fill="#4b0082"/>
<path d="M807.8 714.88h25M807.8 739.88h25" stroke="#4b0082" stroke-width="2.08" fill="none"/>
<text x="866.7" y="736.58" font-size="25">P19</text>
<path d="M795 763.84H845" stroke="#808080" stroke-width="4.17" fill="none" stroke-dasharray="8.33 4.17"/>
<path d="M820.3 751.34V776.34" stroke="#808080" stroke-width="4.17" fill="none"/>
<circle cx="820.3" cy="763.84" r="7.25" fill="#808080"/>
<path d="M807.8 751.34h25M807.8 776.34h25" stroke="#808080" stroke-width="2.08" fill="none"/>
<text x="866.7" y="773.04" font-size="25">P20</text>
<clipPath id="clip1"><rect x="1129" y="43" width="803" height="751"/></clipPath>
<path d="M1229.38 794V43M1329.75 794V43M1430.12 794V43M1530.5 794V43M1630.88 794V43M1731.25 794V43M1831.62 794V43M1129 718.9H1932M1129 568.7H1932M1129 418.5H1932M1129 268.3H1932M1129 118.1H1932" fill="none" stroke="#727272" stroke-width="1.85" stroke-dasharray="8.33 8.33"/>
<g clip-path="url(#clip1)">
<path d="M1150.64 747.17h0M1139.43 723.66h0M1129.71 743.17h0M1138.79 694.48h0M1137.05 713.27h0M1133.64 777.22h0M1141.39 700.83h0M1149.42 685.94h0M1132.95 727.21h0M1143.4 758.6h0M1145.86 703.2h0M1132.01 776.65h0M1132.18 739.01h0M1132.57 787.84h0M1137.45 745.14h0M1133.3 730.98h0M1134.97 677.51h0M1146.28 745.81h0M1145.77 710.6h0M1134.86 766.15h0M1140.18 721.5h0M1151.9 755.07h0M1137.44 764.17h0M1137 703.26h0M1133.22 768.51h0M1137.44 692.28h0M1137.92 794.38h0M1138.9 733.73h0M1137.05 702.7h0M1136.7 752.21h0M1133.21 764.15h0M1144.09 766.13h0M1141.17 732.67h0M1140.06 735.33h0M1149.31 733.1h0M1147.16 756.09h0M1141 729.45h0M1133.19 780.87h0M1144.34 754.92h0M1151.85 688.52h0M1141.06 722.35h0M1152.07 768.84h0M1151.16 734.05h0M1147.25 718.93h0M1149.75 771.18h0M1145.71 730.9h0M1140.7 712.16h0M1134.74 751.49h0M1134.62 800.99h0M1144.57 716.95h0M1139.41 713.24h0M1150.74 766.95h0M1134.56 746.57h0M1135.23 791.03h0M1146.92 744.1h0M1142.27 731.1h0M1131.12 698.29h0M1136.77 748.38h0M1148.75 712.91h0M1142.41 748.59h0M1131.54 713.19h0M1129.22 776.72h0M1129.59 748.18h0M1142.93 772.36h0M1143.98 740.93h0M1143.49 711.13h0M1148.91 701.26h0M1135.34 720.05h0M1149.49 702.04h0M1141.21 755.15h0M1134.45 709.06h0M1139.61 757.33h0M1135.13 716.61h0M1149.14 757.13h0M1149.84 766.48h0M1149.15 728.91h0M1153.73 691.35h0M1141.67 772.28h0M1138.51 765.61h0M1131.79 764.42h0M1166.25 727.05h0M1178.09 672.9h0M1159.68 761.39h0M1163.48 740.49h0M1161.54 697.9h0M1167.45 699.96h0M1171.5 691.36h0M1175.73 779.21h0M1154.73 730.35h0M1176.95 698.8h0M1175.59 661.66h0M1155.34 726.22h0M1165.77 687.69h0M1159.3 787.24h0M1162.19 702.46h0M1174.39 726.27h0M1161.99 676.85h0M1159.21 775.37h0M1165.57 733.65h0M1176.49 748.64h0M1169.56 706.42h0M1176.76 727.02h0M1178.94 743.4h0M1160.28 672.24h0M1178.37 752.5h0M1156.5 724.62h0M1170.86 698.44h0M1171.01 669.49h0M1168.61 680.3h0M1157.56 730.69h0M1155.9 796.49h0M1156.01 731.38h0M1163.46 694.69h0M1156.64 694.44h0M1172.9 727.45h0M1175.72 709.97h0M1160.95 773.18h0M1159.11 789.92h0M1168.03 746.5h0M1158.38 727.68h0M1175.02 686.82h0M1167.61 690.66h0M1178.74 687.06h0M1164.21 680.63h0M1175.55 727.53h0M1156.62 687.32h0M1156.89 791.76h0M1160.13 688.21h0M1176.18 736.74h0M1166.64 776.44h0M1171.76 715.86h0M1155.6 678.21h0M1161.8 736.88h0M1163.87 653.05h0M1177.75 748.41h0M1164.78 696.57h0M1175.8 756.13h0M1173.14 730.36h0M1160.43 749.84h0M1157.35 767.08h0M1198.97 730.71h0M1195.47 676.83h0M1180.23 679.61h0M1202.61 663.43h0M1193.19 659.49h0M1183.32 759.86h0M1182.49 713.77h0M1182.77 679.07h0M1201.96 672.6h0M1203.95 661.84h0M1184.71 698.68h0M1184.73 694.33h0M1191.58 723.58h0M1186.43 736.32h0M1203.74 670.34h0M1196.15 678.17h0M1200.18 667.08h0M1185.17 670.95h0M1201.53 658.98h0M1197.7 728.54h0M1196.36 716.15h0M1180.6 723.93h0M1183.63 679.15h0M1200.06 752.17h0M1190.71 727.72h0M1197.23 738.68h0M1197.14 715.01h0M1181.05 712.52h0M1181.49 737.39h0M1182.37 688.83h0M1181.89 723.88h0M1184.86 694.05h0M1194.67 679.77h0M1179.32 732.77h0M1203.12 663.67h0M1198.17 723.48h0M1191.62 660.55h0M1189.43 692.45h0M1182.83 703.39h0M1199.81 670.43h0M1195.21 712.58h0M1201.52 747.97h0M1185.8 678.68h0M1180.63 681.67h0M1190.34 684.74h0M1191.96 731.19h0M1201.35 720.18h0M1180.21 722.69h0M1182.92 727.61h0M1184.21 722.94h0M1228.33 667.1h0M1211.02 621.87h0M1221.33 729.13h0M1215.18 617.64h0M1216.89 622.3h0M1210.28 717.48h0M1215.21 709.85h0M1207.32 700.81h0M1216.08 656.7h0M1223.11 658.4h0M1215.49 640.26h0M1212.81 636.57h0M1220.75 724.55h0M1211.05 691.29h0M1213.54 727.85h0M1215.52 756.91h0M1212.2 719.57h0M1213.64 697.32h0M1212.84 666.65h0M1207.75 728.82h0M1226.67 690.33h0M1206.52 662.19h0M1220.17 705.69h0M1211 649.04h0M1224.92 719.38h0M1215.56 645.8h0M1225.55 675.01h0M1204.86 686.69h0M1219.08 722.75h0M1224.72 667.65h0M1228.84 604.8h0M1207.25 635.48h0M1211.09 674.06h0M1217.44 689.25h0M1218.56 635.71h0M1208.31 703.35h0M1226 691.78h0M1208.68 693.84h0M1217.58 698.61h0M1220.34 708.28h0M1221.67 707.26h0M1206.35 672.62h0M1226.99 651.91h0M1228.88 633.8h0M1206.9 674.7h0M1251.36 653.13h0M1242.84 662.79h0M1235.29 704.47h0M1241.13 670.13h0M1251.15 659.4h0M1240.82 651.48h0M1250.53 610.89h0M1239.29 675.7h0M1245.57 590.57h0M1242.56 636.98h0M1242.95 615.04h0M1231.99 681.45h0M1254.13 619.74h0M1240.88 665.43h0M1252.2 588.15h0M1233.21 640.01h0M1238.36 588.6h0M1238.54 656.41h0M1253.6 628.48h0M1244.09 647.68h0M1234.09 653.89h0M1240.47 635.76h0M1247.87 607.62h0M1237.62 680.79h0M1243.95 721.66h0M1237.26 653.58h0M1251.08 638.18h0M1243.01 700.32h0M1240.65 680.63h0M1240.69 655.43h0M1253.61 652.72h0M1229.63 607.57h0M1238.07 703.81h0M1238.17 710.33h0M1251.77 591.61h0M1230.1 702.39h0M1234.91 635.63h0M1250.4 624.82h0M1249.99 685.74h0M1251.41 606.21h0M1254.14 578.38h0M1240.02 595.23h0M1235.25 650.39h0M1250.02 664.06h0M1232.19 624.27h0M1251.69 647.42h0M1249.91 673.62h0M1236.93 715.51h0M1241.5 605.42h0M1251.08 600.97h0M1237.26 679.05h0M1249.94 645.41h0M1253.69 570.39h0M1240.78 728.88h0M1248.19 614.91h0M1271.72 603.01h0M1276.25 629.96h0M1279.43 632.64h0M1275.72 556.52h0M1277.67 510.7h0M1271.46 589.03h0M1271.57 548.27h0M1264.73 562.77h0M1277.5 620.75h0M1267.19 592.07h0M1279.02 632.79h0M1278.87 657.55h0M1274.76 637.08h0M1263.41 686.55h0M1257.2 634.84h0M1257.89 679.06h0M1274.11 524.14h0M1274.88 548.58h0M1273.81 541.77h0M1265.52 576.4h0M1277.14 542.87h0M1266.87 589.4h0M1269.47 536.26h0M1256.94 662.83h0M1271.92 634.61h0M1255.23 651.44h0M1267.92 579.59h0M1278.93 532.07h0M1278.65 630.83h0M1261.29 597.04h0M1270.61 544.13h0M1263.63 554.9h0M1267.48 681.92h0M1275.06 563.06h0M1273.28 569.48h0M1265.59 636.28h0M1271.55 603.62h0M1277.96 597.03h0M1275.23 631.26h0M1255.76 638.94h0M1271.22 561.44h0M1254.57 597.51h0M1272.43 573.79h0M1255.43 609.41h0M1272.12 609.35h0M1276.55 650.27h0M1260.2 676.64h0M1274.49 595.82h0M1265.09 669.37h0M1279.35 643.62h0M1285.8 542.9h0M1280.46 573.06h0M1288.28 514.66h0M1286.13 659.25h0M1292.79 629.52h0M1296.92 608.81h0M1281.53 594.39h0M1291.63 498.18h0M1292.17 593.21h0M1281 527.14h0M1297.14 541.67h0M1283.29 548.96h0M1288.2 659.47h0M1302.41 593.27h0M1286.26 486.83h0M1301.02 474.44h0M1280.49 514.65h0M1284.12 624.78h0M1288.45 549.16h0M1289.95 521.98h0M1288 609.23h0M1280.13 680.92h0M1302.88 633.06h0M1289.92 575.08h0M1285.55 525.02h0M1299.67 431.31h0M1296.73 524.02h0M1291.05 537.08h0M1281.65 537.98h0M1297.22 519.73h0M1281.05 614.96h0M1283.44 539.71h0M1295.09 515.25h0M1281.41 612.87h0M1295.76 624.33h0M1283.89 604.05h0M1299 471.78h0M1280.63 583.61h0M1293.98 496.12h0M1280.89 628.1h0M1300.42 647.04h0M1301.76 490.91h0M1289.66 519.55h0M1282.63 637.7h0M1295.79 496.47h0M1299.91 606.9h0M1303.82 596.41h0M1300.83 579.81h0M1297.47 555.09h0M1286.24 520.19h0M1310.95 492.26h0M1308.58 615.05h0M1314.97 548.54h0M1326.85 411.09h0M1323.01 652.18h0M1323.6 499.41h0M1320.94 676.83h0M1313.74 427.45h0M1317.29 526.91h0M1321.64 433.19h0M1319.32 424.63h0M1307.27 403.04h0M1304.94 508.06h0M1311.45 475.29h0M1310.96 654.94h0M1325.84 561.49h0M1307.59 458.22h0M1316.18 418.94h0M1310.57 643.6h0M1323 387.82h0M1307.26 469.97h0M1327.84 484.98h0M1321.96 540.41h0M1326.36 544.66h0M1313.19 470.92h0M1304.77 449.47h0M1322.23 392.91h0M1314.01 626.46h0M1326.45 608.65h0M1310.29 464.52h0M1320.33 548.36h0M1326.25 424.2h0M1321.24 530.9h0M1325.04 482.53h0M1317.74 500.05h0M1318.08 602.14h0M1308.03 516.61h0M1312.07 524.5h0M1320.17 421.96h0M1307.16 469.22h0M1305.05 562.87h0M1311.33 419.15h0M1308.92 627.01h0M1315.81 683.05h0M1311.97 572.13h0M1305.96 526.82h0M1328.36 462.87h0M1329.43 421.67h0M1325.2 699.95h0M1324.51 590.33h0M1348.17 381.59h0M1337.42 631.47h0M1349.8 340.61h0M1336.11 544.31h0M1332.5 590.28h0M1349.11 542.23h0M1338.36 651.44h0M1344.56 409.89h0M1341.37 451.65h0M1330.2 696.62h0M1352.95 646.54h0M1350.55 486.4h0M1337.22 603.13h0M1342.69 477.32h0M1341.7 549.91h0M1339 565.14h0M1349.04 578.21h0M1350.55 480.79h0M1331.15 635.14h0M1330.27 639.09h0M1350.21 369.36h0M1352.85 427.18h0M1349.03 482.92h0M1331.46 530.86h0M1344.06 383.15h0M1330.88 426.41h0M1330.98 428.68h0M1331.48 396.23h0M1341.67 547.78h0M1332.06 395.12h0M1338.2 593.96h0M1353.02 393.98h0M1346.33 400.98h0M1334.95 517.68h0M1338.64 506.46h0M1349.39 431.1h0M1349.46 376.47h0M1348.14 561.83h0M1352.2 551.84h0M1332.48 339.43h0M1337 454.12h0M1330.53 494.88h0M1337.61 428.29h0M1346.28 438.99h0M1334.05 361.25h0M1347.93 585.75h0M1349.66 534.42h0M1336.4 340.87h0M1354.34 365.19h0M1352.96 479.65h0M1342.24 412.36h0M1347.06 386.19h0M1337.7 389.33h0M1347.12 379.84h0M1335.41 459.19h0M1335.22 463.61h0M1345.39 397.1h0M1336.91 488.7h0M1350.05 447.87h0M1341.17 437.43h0M1331.45 630.58h0M1344.68 465.07h0M1341.3 570.55h0M1350.85 574.85h0M1348.54 579.45h0M1339.56 548h0M1346.36 450.61h0M1338.62 478.11h0M1345.17 455.47h0M1345.56 573.47h0M1331.39 355.34h0M1330.31 416.05h0M1357.97 575.86h0M1374.73 368.9h0M1370.7 343.2h0M1376.05 466.76h0M1356.6 463.08h0M1378.4 485.13h0M1355.91 668.34h0M1377.87 416.71h0M1370.89 631.28h0M1372.56 499.6h0M1355.15 502.38h0M1354.89 509.78h0M1375.33 476.26h0M1355.46 382.5h0M1358.56 370.08h0M1354.97 458.3h0M1362.5 551.4h0M1367.02 536.57h0M1379.84 374.92h0M1359.59 334.25h0M1365.06 532.36h0M1362.55 406.82h0M1365.79 487.65h0M1375.44 589.79h0M1366.72 519.02h0M1361.28 431.3h0M1376.57 527.31h0M1363.01 362.33h0M1369.86 585.89h0M1378.6 544h0M1361.01 602.58h0M1361.09 494.49h0M1364.13 394.18h0M1365.09 373.55h0M1360.9 353.57h0M1358.44 565.39h0M1355.82 604.16h0M1366.81 407.47h0M1369.01 453.6h0M1368.69 504.9h0M1356.38 332.02h0M1358.58 513.38h0M1360.06 354.35h0M1368.49 421.81h0M1373.74 494.43h0M1378.15 532h0M1376.27 458.83h0M1372.71 335.75h0M1368.96 385.57h0M1362.47 617.73h0M1369.46 542.46h0M1360.96 522.58h0M1355.02 520.48h0M1359.68 598.88h0M1359.36 487.74h0M1373.95 510.96h0M1367.15 308.72h0M1376.83 429.79h0M1364.01 343.42h0M1377.4 408.94h0M1379.05 440.59h0M1373.62 505.44h0M1355.29 407.79h0M1355.84 307.14h0M1375.8 305.74h0M1376.15 340.76h0M1357.14 385.66h0M1373.29 444.24h0M1401.55 562.92h0M1395.37 533.98h0M1387.78 460.1h0M1380.56 369.18h0M1404.48 601.45h0M1385.6 587.88h0M1392.92 457.85h0M1395.53 367.96h0M1395.27 478.9h0M1393.38 609.71h0M1401.57 381.44h0M1404.82 475.2h0M1389.85 597.53h0M1387.53 422.27h0M1403.99 370.1h0M1398.98 437.95h0M1389.22 386.37h0M1400.31 563.81h0M1403.97 447.4h0M1387.24 540.29h0M1388.26 587.32h0M1400.62 382.58h0M1383.77 587.32h0M1385.49 569.79h0M1388.59 636.42h0M1391 417.83h0M1387.33 536.51h0M1395.45 540.4h0M1390.07 603.32h0M1389.49 595.74h0M1382.37 514.74h0M1393.29 385.47h0M1394.89 515.05h0M1381.56 459.01h0M1399.69 350.08h0M1391.49 527.24h0M1393.43 426.55h0M1389.57 484.2h0M1397.59 496.73h0M1393.18 605.94h0M1391.71 471.04h0M1383.27 497.18h0M1403.5 349.27h0M1384.78 336.83h0M1398.38 415.93h0M1395.47 408.12h0M1401.46 447.69h0M1394.11 339.63h0M1383.4 506.49h0M1383.31 600.78h0M1380.29 395.86h0M1400.07 553.64h0M1401.12 410.8h0M1394.71 431.37h0M1384.03 314.7h0M1416.95 456.45h0M1418.73 399.75h0M1421.29 589.58h0M1410.21 421.62h0M1406.93 579.03h0M1416.81 445.65h0M1405.79 579.55h0M1412.8 451.36h0M1408.98 427.21h0M1417.8 625.69h0M1424.48 502.98h0M1408.8 619.81h0M1429.86 514.69h0M1413.36 447.16h0M1424.67 474.89h0M1409.04 376.42h0M1429.12 441.92h0M1410.8 483.95h0M1423.39 409.34h0M1419.9 605.23h0M1419.61 541.11h0M1413.98 625.89h0M1413.46 560.21h0M1422.95 496.14h0M1410.41 477.01h0M1422.01 582.96h0M1405.16 366.02h0M1411.85 545.58h0M1412.11 408.14h0M1416.85 470.29h0M1419.83 574.64h0M1427.4 487.91h0M1411.23 545.57h0M1418.17 441.27h0M1414.82 545.31h0M1424.02 457.39h0M1429.01 408.95h0M1420.37 634.21h0M1410.69 543.3h0M1423.83 445.54h0M1436.62 591.07h0M1438.95 477.17h0M1444.2 559.02h0M1447.4 564.61h0M1445.5 548.54h0M1439.73 511.06h0M1451.21 541.67h0M1452.3 472.85h0M1432.74 433.73h0M1452.24 543.86h0M1444.86 530.64h0M1444.07 526.24h0M1433.92 564.95h0M1452.66 483.46h0M1436.47 495.54h0M1441.14 452.83h0M1449.86 484.23h0M1451.47 535.26h0M1433.14 398.14h0M1434.21 558.21h0M1438.4 455.83h0M1445.13 620.62h0M1433.83 493.67h0M1443.58 469.35h0M1447.75 497.49h0M1436.88 485.49h0M1447.94 533.8h0M1430.92 486.76h0M1436.47 552.08h0M1449.35 425.06h0M1449.04 527.7h0M1436.5 553.79h0M1461.8 432.18h0M1470.93 419.9h0M1476.09 414.49h0M1466.35 407.79h0M1478.43 515.62h0M1473.05 541.1h0M1457.5 508.74h0M1467.82 440.72h0M1473.23 406.73h0M1466.7 535.23h0M1461.33 557.76h0M1468.64 565.11h0M1474.37 376.25h0M1471.19 464.69h0M1476.11 560.68h0M1464.44 420.65h0M1456.31 426.17h0M1470.4 360.17h0M1457.16 552.51h0M1473.98 342.09h0M1466.04 455.34h0M1473.32 378.48h0M1485.15 374.87h0M1503.53 497.17h0M1486.94 572.51h0M1495.74 474.35h0M1482.2 570.59h0M1485.08 548.33h0M1503.42 534.46h0M1488.63 550.76h0M1489.62 316.88h0M1499.74 370.72h0M1486.59 496.81h0M1497.14 384.97h0M1480.83 479.67h0M1486.84 425.67h0M1506.47 457h0M1508.26 432.08h0M1517.39 301h0M1529.09 287.5h0M1520.9 387.39h0M1516.2 320.94h0M1522.82 422.01h0M1506.43 398.27h0M1516.01 291.75h0M1511.3 334.1h0M1514.98 340.49h0M1521.47 323.08h0M1540.62 302.62h0M1555.22 395.71h0M1546.09 317.28h0M1551.6 390.84h0M1553.18 398.62h0M1532.39 327.55h0M1545.45 373.51h0M1533.92 403.15h0M1540.11 227.35h0M1542.7 407.81h0M1538.08 392.45h0M1542.42 432.3h0M1544.9 401.47h0M1536.67 442.28h0M1556.15 418.82h0M1572.07 216.92h0M1566.41 313.1h0M1565.4 401.25h0M1571.62 278.19h0M1565.21 342.2h0M1572.9 270.53h0M1558.7 368.42h0M1570.8 372.95h0M1572.92 260.26h0M1573.96 274.64h0M1576.94 206.54h0M1557.05 416.17h0M1571.97 311.45h0M1559.5 374.93h0M1569 266.37h0M1569.17 370.34h0M1566.31 439.72h0M1586.3 319.26h0M1580.93 322.71h0M1583.12 295.53h0M1595.28 287.53h0M1583.21 254.44h0M1582.85 261.51h0M1587.12 268.91h0M1598.88 315.22h0M1599.03 473.24h0M1597.43 236.59h0M1604.5 403.13h0M1601.9 305.22h0M1605.59 365.53h0M1585.18 400.98h0M1588.33 324.92h0M1592.77 222.55h0M1596.41 425.6h0M1582.98 199.64h0M1596.9 311.06h0M1603.45 330.23h0M1602.72 311.16h0M1599.35 261.94h0M1586.46 341.91h0M1584.1 283.22h0M1607.19 304.2h0M1628.84 389.32h0M1627.16 304.21h0M1617.15 316.52h0M1629.69 442.38h0M1629.93 375.11h0M1629.71 303.14h0M1625.36 348.86h0M1615.3 268.77h0M1617.99 284.82h0M1618.08 229.36h0M1613.62 307.27h0M1619.01 361.12h0M1629.02 260.07h0M1621.62 443.99h0M1616.66 338.64h0M1615.83 325.36h0M1608.51 367.35h0M1626.37 453.42h0M1627.84 295.55h0M1626.09 346.94h0M1612.62 297.32h0M1621.96 417.97h0M1616.66 290.33h0M1631.18 264.76h0M1641.1 373.39h0M1651.35 407.98h0M1635.27 268.78h0M1654.38 268.57h0M1645.16 428.25h0M1661.51 271.34h0M1156.24 788.2h0M1156.56 793.55h0M1167.78 778.71h0M1160.16 794.66h0M1153.82 790.63h0M1140.92 775.61h0M1176.51 797.44h0M1170.01 784.01h0M1147.19 791.69h0M1161.18 787.53h0M1161.7 782.6h0M1135.34 780.05h0M1175.84 775.21h0M1158.24 797.44h0M1129.19 795.29h0M1173.87 791.23h0M1146.46 776.92h0M1143.99 785.31h0M1149.79 796.94h0M1156.87 778.22h0M1136.46 793.12h0M1148.68 797.62h0M1152.68 778.85h0M1160.37 785.69h0M1169.77 794.91h0M1156.04 789.51h0M1157.67 795.79h0M1165.97 796.18h0M1136.93 779.1h0M1174.18 788.09h0M1135.02 619.77h0M1185.71 561.19h0M1680.06 674.59h0M1294.62 341.9h0M1284.58 430.52h0M1279.56 475.58h0M1475.29 682.85h0M1465.26 643.8h0M1435.14 643.8h0M1593.23 140.63h0M1570.65 148.14h0M1525.48 194.7h0M1565.63 197.71h0M1505.41 233.75h0" fill="none" stroke="#808080" stroke-width="8.6" stroke-linecap="round"/>
</g>
<path d="M1412.5 691.3V716.3" stroke="#0000ff" stroke-width="4.17" fill="none"/>
<path d="M1407.47 671.2V710.4" stroke="#ff0000" stroke-width="4.17" fill="none"/>
<path d="M1402.44 622.9V667.9" stroke="#000000" stroke-width="4.17" fill="none"/>
<path d="M1397.41 599.1V635.1" stroke="#bf00bf" stroke-width="4.17" fill="none"/>
<path d="M1392.38 507.2V605.2" stroke="#00bfbf" stroke-width="4.17" fill="none"/>
<path d="M1387.35 556.9V592.3" stroke="#008000" stroke-width="4.17" fill="none"/>
<path d="M1382.32 431.1V472.9" stroke="#bfbf00" stroke-width="4.17" fill="none"/>
<path d="M1377.29 420.2V488.8" stroke="#ffa500" stroke-width="4.17" fill="none"/>
<path d="M1372.26 327.2V412.4" stroke="#4b0082" stroke-width="4.17" fill="none"/>
<path d="M1367.23 361.3V393.3" stroke="#808080" stroke-width="4.17" fill="none"/>
<path d="M1719.5 488.2V526.2" stroke="#0000ff" stroke-width="4.17" fill="none"/>
<path d="M1714.44 443.3V494.5" stroke="#ff0000" stroke-width="4.17" fill="none"/>
<path d="M1709.38 287.2V349.2" stroke="#000000" stroke-width="4.17" fill="none"/>
<path d="M1704.32 332.3V385.3" stroke="#bf00bf" stroke-width="4.17" fill="none"/>
<path d="M1699.26 299.3V356.7" stroke="#00bfbf" stroke-width="4.17" fill="none"/>
<path d="M1694.2 274.5V349.5" stroke="#008000" stroke-width="4.17" fill="none"/>
<path d="M1689.14 278.9V352.9" stroke="#bfbf00" stroke-width="4.17" fill="none"/>
<path d="M1684.08 343.2V393.2" stroke="#ffa500" stroke-width="4.17" fill="none"/>
<path d="M1679.02 266V320.8" stroke="#4b0082" stroke-width="4.17" fill="none"/>
<path d="M1673.96 266.5V331.1" stroke="#808080" stroke-width="4.17" fill="none"/>
<path d="M1412.5 703.8L1333.5 662.6" stroke="#0000ff" stroke-width="4.17" fill="none"/>
<circle cx="1333.5" cy="662.6" r="7.25" fill="#0000ff"/><circle cx="1412.5" cy="703.8" r="7.25" fill="#0000ff"/>
<path d="M1400 691.3h25M1400 716.3h25" stroke="#0000ff" stroke-width="2.08" fill="none"/>
<path d="M1407.47 690.8L1328.45 637.6" stroke="#ff0000" stroke-width="4.17" fill="none"/>
<circle cx="1328.45" cy="637.6" r="7.25" fill="#ff0000"/><circle cx="1407.47" cy="690.8" r="7.25" fill="#ff0000"/>
<path d="M1394.97 671.2h25M1394.97 710.4h25" stroke="#ff0000" stroke-width="2.08" fill="none"/>
<path d="M1402.44 645.4L1329.3 556.4" stroke="#000000" stroke-width="4.17" fill="none"/>
<circle cx="1329.3" cy="556.4" r="7.25" fill="#000000"/><circle cx="1402.44" cy="645.4" r="7.25" fill="#000000"/>
<path d="M1389.94 622.9h25M1389.94 667.9h25" stroke="#000000" stroke-width="2.08" fill="none"/>
<path d="M1397.41 617.1L1337.55 547.1" stroke="#bf00bf" stroke-width="4.17" fill="none"/>
<circle cx="1337.55" cy="547.1" r="7.25" fill="#bf00bf"/><circle cx="1397.41" cy="617.1" r="7.25" fill="#bf00bf"/>
<path d="M1384.91 599.1h25M1384.91 635.1h25" stroke="#bf00bf" stroke-width="2.08" fill="none"/>
<path d="M1392.38 556.2L1326.2 521.5" stroke="#00bfbf" stroke-width="4.17" fill="none"/>
<circle cx="1326.2" cy="521.5" r="7.25" fill="#00bfbf"/><circle cx="1392.38" cy="556.2" r="7.25" fill="#00bfbf"/>
<path d="M1379.88 507.2h25M1379.88 605.2h25" stroke="#00bfbf" stroke-width="2.08" fill="none"/>
<path d="M1387.35 574.6L1331.4 467.5" stroke="#008000" stroke-width="4.17" fill="none"/>
<circle cx="1331.4" cy="467.5" r="7.25" fill="#008000"/><circle cx="1387.35" cy="574.6" r="7.25" fill="#008000"/>
<path d="M1374.85 556.9h25M1374.85 592.3h25" stroke="#008000" stroke-width="2.08" fill="none"/>
<path d="M1382.32 452L1333.2 425.4" stroke="#bfbf00" stroke-width="4.17" fill="none"/>
<circle cx="1333.2" cy="425.4" r="7.25" fill="#bfbf00"/><circle cx="1382.32" cy="452" r="7.25" fill="#bfbf00"/>
<path d="M1369.82 431.1h25M1369.82 472.9h25" stroke="#bfbf00" stroke-width="2.08" fill="none"/>
<path d="M1377.29 454.5L1326.4 395.4" stroke="#ffa500" stroke-width="4.17" fill="none"/>
<circle cx="1326.4" cy="395.4" r="7.25" fill="#ffa500"/><circle cx="1377.29" cy="454.5" r="7.25" fill="#ffa500"/>
<path d="M1364.79 420.2h25M1364.79 488.8h25" stroke="#ffa500" stroke-width="2.08" fill="none"/>
<path d="M1372.26 369.8L1334.4 351.6" stroke="#4b0082" stroke-width="4.17" fill="none"/>
<circle cx="1334.4" cy="351.6" r="7.25" fill="#4b0082"/><circle cx="1372.26" cy="369.8" r="7.25" fill="#4b0082"/>
<path d="M1359.76 327.2h25M1359.76 412.4h25" stroke="#4b0082" stroke-width="2.08" fill="none"/>
<path d="M1367.23 377.3L1334.3 301.3" stroke="#808080" stroke-width="4.17" fill="none"/>
<circle cx="1334.3" cy="301.3" r="7.25" fill="#808080"/><circle cx="1367.23" cy="377.3" r="7.25" fill="#808080"/>
<path d="M1354.73 361.3h25M1354.73 393.3h25" stroke="#808080" stroke-width="2.08" fill="none"/>
<path d="M1719.5 507.2L1622.3 469.4" stroke="#0000ff" stroke-width="4.17" fill="none" stroke-dasharray="8.33 4.17"/>
<circle cx="1622.3" cy="469.4" r="7.25" fill="#0000ff"/><circle cx="1719.5" cy="507.2" r="7.25" fill="#0000ff"/>
<path d="M1707 488.2h25M1707 526.2h25" stroke="#0000ff" stroke-width="2.08" fill="none"/>
<path d="M1714.44 468.9L1628.3 417.3" stroke="#ff0000" stroke-width="4.17" fill="none" stroke-dasharray="8.33 4.17"/>
<circle cx="1628.3" cy="417.3" r="7.25" fill="#ff0000"/><circle cx="1714.44" cy="468.9" r="7.25" fill="#ff0000"/>
<path d="M1701.94 443.3h25M1701.94 494.5h25" stroke="#ff0000" stroke-width="2.08" fill="none"/>
<path d="M1709.38 318.2L1644.4 330.2" stroke="#000000" stroke-width="4.17" fill="none" stroke-dasharray="8.33 4.17"/>
<circle cx="1644.4" cy="330.2" r="7.25" fill="#000000"/><circle cx="1709.38" cy="318.2" r="7.25" fill="#000000"/>
<path d="M1696.88 287.2h25M1696.88 349.2h25" stroke="#000000" stroke-width="2.08" fill="none"/>
<path d="M1704.32 358.8L1622.3 298.3" stroke="#bf00bf" stroke-width="4.17" fill="none" stroke-dasharray="8.33 4.17"/>
<circle cx="1622.3" cy="298.3" r="7.25" fill="#bf00bf"/><circle cx="1704.32" cy="358.8" r="7.25" fill="#bf00bf"/>
<path d="M1691.82 332.3h25M1691.82 385.3h25" stroke="#bf00bf" stroke-width="2.08" fill="none"/>
<path d="M1699.26 328L1619.2 236.4" stroke="#00bfbf" stroke-width="4.17" fill="none" stroke-dasharray="8.33 4.17"/>
<circle cx="1619.2" cy="236.4" r="7.25" fill="#00bfbf"/><circle cx="1699.26" cy="328" r="7.25" fill="#00bfbf"/>
<path d="M1686.76 299.3h25M1686.76 356.7h25" stroke="#00bfbf" stroke-width="2.08" fill="none"/>
<path d="M1694.2 312L1639.3 322.3" stroke="#008000" stroke-width="4.17" fill="none" stroke-dasharray="8.33 4.17"/>
<circle cx="1639.3" cy="322.3" r="7.25" fill="#008000"/><circle cx="1694.2" cy="312" r="7.25" fill="#008000"/>
<path d="M1681.7 274.5h25M1681.7 349.5h25" stroke="#008000" stroke-width="2.08" fill="none"/>
<path d="M1689.14 315.9L1630.5 228.3" stroke="#bfbf00" stroke-width="4.17" fill="none" stroke-dasharray="8.33 4.17"/>
<circle cx="1630.5" cy="228.3" r="7.25" fill="#bfbf00"/><circle cx="1689.14" cy="315.9" r="7.25" fill="#bfbf00"/>
<path d="M1676.64 278.9h25M1676.64 352.9h25" stroke="#bfbf00" stroke-width="2.08" fill="none"/>
<path d="M1684.08 368.2L1630.5 302.3" stroke="#ffa500" stroke-width="4.17" fill="none" stroke-dasharray="8.33 4.17"/>
<circle cx="1630.5" cy="302.3" r="7.25" fill="#ffa500"/><circle cx="1684.08" cy="368.2" r="7.25" fill="#ffa500"/>
<path d="M1671.58 343.2h25M1671.58 393.2h25" stroke="#ffa500" stroke-width="2.08" fill="none"/>
<path d="M1679.02 293.4L1642.5 245.3" stroke="#4b0082" stroke-width="4.17" fill="none" stroke-dasharray="8.33 4.17"/>
<circle cx="1642.5" cy="245.3" r="7.25" fill="#4b0082"/><circle cx="1679.02" cy="293.4" r="7.25" fill="#4b0082"/>
<path d="M1666.52 266h25M1666.52 320.8h25" stroke="#4b0082" stroke-width="2.08" fill="none"/>
<path d="M1673.96 298.8L1630.6 212.5" stroke="#808080" stroke-width="4.17" fill="none" stroke-dasharray="8.33 4.17"/>
<circle cx="1630.6" cy="212.5" r="7.25" fill="#808080"/><circle cx="1673.96" cy="298.8" r="7.25" fill="#808080"/>
<path d="M1661.46 266.5h25M1661.46 331.1h25" stroke="#808080" stroke-width="2.08" fill="none"/>
<path d="M1129 794v-16.7M1129 43v16.7M1229.38 794v-16.7M1229.38 43v16.7M1329.75 794v-16.7M1329.75 43v16.7M1430.12 794v-16.7M1430.12 43v16.7M1530.5 794v-16.7M1530.5 43v16.7M1630.88 794v-16.7M1630.88 43v16.7M1731.25 794v-16.7M1731.25 43v16.7M1831.62 794v-16.7M1831.62 43v16.7M1932 794v-16.7M1932 43v16.7M1129 718.9h16.7M1932 718.9h-16.7M1129 568.7h16.7M1932 568.7h-16.7M1129 418.5h16.7M1932 418.5h-16.7M1129 268.3h16.7M1932 268.3h-16.7M1129 118.1h16.7M1932 118.1h-16.7" fill="none" stroke="#000" stroke-width="2.08"/>
<rect x="1129" y="43" width="803" height="751" fill="none" stroke="#000" stroke-width="4.17"/>
<text x="1129" y="830.8" font-size="25" text-anchor="middle">4</text>
<text x="1229.38" y="830.8" font-size="25" text-anchor="middle">6</text>
<text x="1329.75" y="830.8" font-size="25" text-anchor="middle">8</text>
<text x="1430.12" y="830.8" font-size="25" text-anchor="middle">10</text>
<text x="1530.5" y="830.8" font-size="25" text-anchor="middle">12</text>
<text x="1630.88" y="830.8" font-size="25" text-anchor="middle">14</text>
<text x="1731.25" y="830.8" font-size="25" text-anchor="middle">16</text>
<text x="1831.62" y="830.8" font-size="25" text-anchor="middle">18</text>
<text x="1932" y="830.8" font-size="25" text-anchor="middle">20</text>
<text x="1112.5" y="726.4" font-size="25" text-anchor="end">1000</text>
<text x="1112.5" y="576.2" font-size="25" text-anchor="end">2000</text>
<text x="1112.5" y="426" font-size="25" text-anchor="end">3000</text>
<text x="1112.5" y="275.8" font-size="25" text-anchor="end">4000</text>
<text x="1112.5" y="125.6" font-size="25" text-anchor="end">5000</text>
<text x="1530.5" y="22.8" font-size="30" text-anchor="middle">Derived tower-bottom fore–aft moment</text>
<text transform="translate(1022.6 418.5) rotate(-90)" font-size="25" text-anchor="middle">1Hz eq. load (m = 4) [~kNm]</text>
<text x="1530.5" y="884.5" font-size="26.7" text-anchor="middle">Wsp, Mast3 [m s<tspan dy="-10.7" font-size="18.7">-1</tspan><tspan dy="10.7">]</tspan></text>
<rect x="1788" y="51.1" width="137" height="736.9" fill="#fff" stroke="#000" stroke-width="4.17"/>
<path d="M1798 71.1H1848" stroke="#0000ff" stroke-width="4.17" fill="none"/>
<path d="M1823.3 58.6V83.6" stroke="#0000ff" stroke-width="4.17" fill="none"/>
<circle cx="1823.3" cy="71.1" r="7.25" fill="#0000ff"/>
<path d="M1810.8 58.6h25M1810.8 83.6h25" stroke="#0000ff" stroke-width="2.08" fill="none"/>
<text x="1869.7" y="80.3" font-size="25">P1</text>
<path d="M1798 107.56H1848" stroke="#ff0000" stroke-width="4.17" fill="none"/>
<path d="M1823.3 95.06V120.06" stroke="#ff0000" stroke-width="4.17" fill="none"/>
<circle cx="1823.3" cy="107.56" r="7.25" fill="#ff0000"/>
<path d="M1810.8 95.06h25M1810.8 120.06h25" stroke="#ff0000" stroke-width="2.08" fill="none"/>
<text x="1869.7" y="116.76" font-size="25">P2</text>
<path d="M1798 144.02H1848" stroke="#000000" stroke-width="4.17" fill="none"/>
<path d="M1823.3 131.52V156.52" stroke="#000000" stroke-width="4.17" fill="none"/>
<circle cx="1823.3" cy="144.02" r="7.25" fill="#000000"/>
<path d="M1810.8 131.52h25M1810.8 156.52h25" stroke="#000000" stroke-width="2.08" fill="none"/>
<text x="1869.7" y="153.22" font-size="25">P3</text>
<path d="M1798 180.48H1848" stroke="#bf00bf" stroke-width="4.17" fill="none"/>
<path d="M1823.3 167.98V192.98" stroke="#bf00bf" stroke-width="4.17" fill="none"/>
<circle cx="1823.3" cy="180.48" r="7.25" fill="#bf00bf"/>
<path d="M1810.8 167.98h25M1810.8 192.98h25" stroke="#bf00bf" stroke-width="2.08" fill="none"/>
<text x="1869.7" y="189.68" font-size="25">P4</text>
<path d="M1798 216.94H1848" stroke="#00bfbf" stroke-width="4.17" fill="none"/>
<path d="M1823.3 204.44V229.44" stroke="#00bfbf" stroke-width="4.17" fill="none"/>
<circle cx="1823.3" cy="216.94" r="7.25" fill="#00bfbf"/>
<path d="M1810.8 204.44h25M1810.8 229.44h25" stroke="#00bfbf" stroke-width="2.08" fill="none"/>
<text x="1869.7" y="226.14" font-size="25">P5</text>
<path d="M1798 253.4H1848" stroke="#008000" stroke-width="4.17" fill="none"/>
<path d="M1823.3 240.9V265.9" stroke="#008000" stroke-width="4.17" fill="none"/>
<circle cx="1823.3" cy="253.4" r="7.25" fill="#008000"/>
<path d="M1810.8 240.9h25M1810.8 265.9h25" stroke="#008000" stroke-width="2.08" fill="none"/>
<text x="1869.7" y="262.6" font-size="25">P6</text>
<path d="M1798 289.86H1848" stroke="#bfbf00" stroke-width="4.17" fill="none"/>
<path d="M1823.3 277.36V302.36" stroke="#bfbf00" stroke-width="4.17" fill="none"/>
<circle cx="1823.3" cy="289.86" r="7.25" fill="#bfbf00"/>
<path d="M1810.8 277.36h25M1810.8 302.36h25" stroke="#bfbf00" stroke-width="2.08" fill="none"/>
<text x="1869.7" y="299.06" font-size="25">P7</text>
<path d="M1798 326.32H1848" stroke="#ffa500" stroke-width="4.17" fill="none"/>
<path d="M1823.3 313.82V338.82" stroke="#ffa500" stroke-width="4.17" fill="none"/>
<circle cx="1823.3" cy="326.32" r="7.25" fill="#ffa500"/>
<path d="M1810.8 313.82h25M1810.8 338.82h25" stroke="#ffa500" stroke-width="2.08" fill="none"/>
<text x="1869.7" y="335.52" font-size="25">P8</text>
<path d="M1798 362.78H1848" stroke="#4b0082" stroke-width="4.17" fill="none"/>
<path d="M1823.3 350.28V375.28" stroke="#4b0082" stroke-width="4.17" fill="none"/>
<circle cx="1823.3" cy="362.78" r="7.25" fill="#4b0082"/>
<path d="M1810.8 350.28h25M1810.8 375.28h25" stroke="#4b0082" stroke-width="2.08" fill="none"/>
<text x="1869.7" y="371.98" font-size="25">P9</text>
<path d="M1798 399.24H1848" stroke="#808080" stroke-width="4.17" fill="none"/>
<path d="M1823.3 386.74V411.74" stroke="#808080" stroke-width="4.17" fill="none"/>
<circle cx="1823.3" cy="399.24" r="7.25" fill="#808080"/>
<path d="M1810.8 386.74h25M1810.8 411.74h25" stroke="#808080" stroke-width="2.08" fill="none"/>
<text x="1869.7" y="408.44" font-size="25">P10</text>
<path d="M1798 435.7H1848" stroke="#0000ff" stroke-width="4.17" fill="none" stroke-dasharray="8.33 4.17"/>
<path d="M1823.3 423.2V448.2" stroke="#0000ff" stroke-width="4.17" fill="none"/>
<circle cx="1823.3" cy="435.7" r="7.25" fill="#0000ff"/>
<path d="M1810.8 423.2h25M1810.8 448.2h25" stroke="#0000ff" stroke-width="2.08" fill="none"/>
<text x="1869.7" y="444.9" font-size="25">P11</text>
<path d="M1798 472.16H1848" stroke="#ff0000" stroke-width="4.17" fill="none" stroke-dasharray="8.33 4.17"/>
<path d="M1823.3 459.66V484.66" stroke="#ff0000" stroke-width="4.17" fill="none"/>
<circle cx="1823.3" cy="472.16" r="7.25" fill="#ff0000"/>
<path d="M1810.8 459.66h25M1810.8 484.66h25" stroke="#ff0000" stroke-width="2.08" fill="none"/>
<text x="1869.7" y="481.36" font-size="25">P12</text>
<path d="M1798 508.62H1848" stroke="#000000" stroke-width="4.17" fill="none" stroke-dasharray="8.33 4.17"/>
<path d="M1823.3 496.12V521.12" stroke="#000000" stroke-width="4.17" fill="none"/>
<circle cx="1823.3" cy="508.62" r="7.25" fill="#000000"/>
<path d="M1810.8 496.12h25M1810.8 521.12h25" stroke="#000000" stroke-width="2.08" fill="none"/>
<text x="1869.7" y="517.82" font-size="25">P13</text>
<path d="M1798 545.08H1848" stroke="#bf00bf" stroke-width="4.17" fill="none" stroke-dasharray="8.33 4.17"/>
<path d="M1823.3 532.58V557.58" stroke="#bf00bf" stroke-width="4.17" fill="none"/>
<circle cx="1823.3" cy="545.08" r="7.25" fill="#bf00bf"/>
<path d="M1810.8 532.58h25M1810.8 557.58h25" stroke="#bf00bf" stroke-width="2.08" fill="none"/>
<text x="1869.7" y="554.28" font-size="25">P14</text>
<path d="M1798 581.54H1848" stroke="#00bfbf" stroke-width="4.17" fill="none" stroke-dasharray="8.33 4.17"/>
<path d="M1823.3 569.04V594.04" stroke="#00bfbf" stroke-width="4.17" fill="none"/>
<circle cx="1823.3" cy="581.54" r="7.25" fill="#00bfbf"/>
<path d="M1810.8 569.04h25M1810.8 594.04h25" stroke="#00bfbf" stroke-width="2.08" fill="none"/>
<text x="1869.7" y="590.74" font-size="25">P15</text>
<path d="M1798 618H1848" stroke="#008000" stroke-width="4.17" fill="none" stroke-dasharray="8.33 4.17"/>
<path d="M1823.3 605.5V630.5" stroke="#008000" stroke-width="4.17" fill="none"/>
<circle cx="1823.3" cy="618" r="7.25" fill="#008000"/>
<path d="M1810.8 605.5h25M1810.8 630.5h25" stroke="#008000" stroke-width="2.08" fill="none"/>
<text x="1869.7" y="627.2" font-size="25">P16</text>
<path d="M1798 654.46H1848" stroke="#bfbf00" stroke-width="4.17" fill="none" stroke-dasharray="8.33 4.17"/>
<path d="M1823.3 641.96V666.96" stroke="#bfbf00" stroke-width="4.17" fill="none"/>
<circle cx="1823.3" cy="654.46" r="7.25" fill="#bfbf00"/>
<path d="M1810.8 641.96h25M1810.8 666.96h25" stroke="#bfbf00" stroke-width="2.08" fill="none"/>
<text x="1869.7" y="663.66" font-size="25">P17</text>
<path d="M1798 690.92H1848" stroke="#ffa500" stroke-width="4.17" fill="none" stroke-dasharray="8.33 4.17"/>
<path d="M1823.3 678.42V703.42" stroke="#ffa500" stroke-width="4.17" fill="none"/>
<circle cx="1823.3" cy="690.92" r="7.25" fill="#ffa500"/>
<path d="M1810.8 678.42h25M1810.8 703.42h25" stroke="#ffa500" stroke-width="2.08" fill="none"/>
<text x="1869.7" y="700.12" font-size="25">P18</text>
<path d="M1798 727.38H1848" stroke="#4b0082" stroke-width="4.17" fill="none" stroke-dasharray="8.33 4.17"/>
<path d="M1823.3 714.88V739.88" stroke="#4b0082" stroke-width="4.17" fill="none"/>
<circle cx="1823.3" cy="727.38" r="7.25" fill="#4b0082"/>
<path d="M1810.8 714.88h25M1810.8 739.88h25" stroke="#4b0082" stroke-width="2.08" fill="none"/>
<text x="1869.7" y="736.58" font-size="25">P19</text>
<path d="M1798 763.84H1848" stroke="#808080" stroke-width="4.17" fill="none" stroke-dasharray="8.33 4.17"/>
<path d="M1823.3 751.34V776.34" stroke="#808080" stroke-width="4.17" fill="none"/>
<circle cx="1823.3" cy="763.84" r="7.25" fill="#808080"/>
<path d="M1810.8 751.34h25M1810.8 776.34h25" stroke="#808080" stroke-width="2.08" fill="none"/>
<text x="1869.7" y="773.04" font-size="25">P20</text>
<clipPath id="clip2"><rect x="126" y="993" width="803" height="751"/></clipPath>
<path d="M226.38 1744V993M326.75 1744V993M427.12 1744V993M527.5 1744V993M627.88 1744V993M728.25 1744V993M828.62 1744V993M126 1636.71H929M126 1529.43H929M126 1422.14H929M126 1314.86H929M126 1207.57H929M126 1100.29H929" fill="none" stroke="#727272" stroke-width="1.85" stroke-dasharray="8.33 8.33"/>
<g clip-path="url(#clip2)">
<path d="M147.64 1618.05h0M136.43 1684.41h0M126.71 1648.88h0M135.79 1610.71h0M134.05 1618.93h0M130.64 1690.33h0M138.39 1614.42h0M146.42 1689.55h0M129.95 1715.48h0M140.4 1621.52h0M142.86 1644.96h0M129.01 1690.12h0M129.18 1641.51h0M129.57 1674.16h0M134.45 1689.39h0M130.3 1605.85h0M131.97 1611.14h0M143.28 1641.1h0M142.77 1648.08h0M131.86 1695.33h0M137.18 1595.88h0M148.9 1679.59h0M134.44 1593.3h0M134 1634.65h0M130.22 1647.49h0M134.44 1636.04h0M134.92 1666.53h0M135.9 1646.27h0M134.05 1711.14h0M133.7 1645.45h0M130.21 1641.76h0M141.09 1647.06h0M138.17 1686.27h0M137.06 1670.18h0M146.31 1650.38h0M144.16 1625.82h0M138 1617.89h0M130.19 1653.51h0M141.34 1604.62h0M148.85 1597.43h0M138.06 1573.62h0M149.07 1591.79h0M148.16 1695.3h0M144.25 1671.21h0M146.75 1628.62h0M142.71 1656.16h0M137.7 1673.18h0M131.74 1647.64h0M131.62 1629.2h0M141.57 1630.15h0M136.41 1714h0M147.74 1677.41h0M131.56 1639.26h0M132.23 1722.03h0M143.92 1596.64h0M139.27 1720.36h0M128.12 1650.17h0M133.77 1652.57h0M145.75 1619.07h0M139.41 1619.28h0M128.54 1652.25h0M126.22 1707.14h0M126.59 1659.55h0M139.93 1645.11h0M140.98 1600.46h0M140.49 1629.55h0M145.91 1539.99h0M132.34 1708.21h0M146.49 1650.98h0M138.21 1680.99h0M131.45 1675.29h0M136.61 1638.12h0M132.13 1670.92h0M146.14 1667.59h0M146.84 1672.44h0M146.15 1698.12h0M150.73 1654.65h0M138.67 1658.43h0M135.51 1641.44h0M128.79 1706.19h0M163.25 1639.03h0M175.09 1570.35h0M156.68 1608.22h0M160.48 1690.01h0M158.54 1552.76h0M164.45 1651.45h0M168.5 1636.89h0M172.73 1601.41h0M151.73 1675.52h0M173.95 1583.36h0M172.59 1645.9h0M152.34 1610.53h0M162.77 1621.05h0M156.3 1682.47h0M159.19 1641.02h0M171.39 1636.33h0M158.99 1594.81h0M156.21 1673.63h0M162.57 1660.17h0M173.49 1634.31h0M166.56 1675.14h0M173.76 1659.02h0M175.94 1629.41h0M157.28 1532.17h0M175.37 1578.31h0M153.5 1697.06h0M167.86 1639.37h0M168.01 1673.66h0M165.61 1502.77h0M154.56 1671.91h0M152.9 1652.56h0M153.01 1708.77h0M160.46 1599.36h0M153.64 1603.36h0M169.9 1659.1h0M172.72 1628.49h0M157.95 1643.25h0M156.11 1657.23h0M165.03 1600.26h0M155.38 1622.53h0M172.02 1590.87h0M164.61 1580h0M175.74 1652.39h0M161.21 1625.7h0M172.55 1585.34h0M153.62 1622.35h0M153.89 1619.63h0M157.13 1631h0M173.18 1465.93h0M163.64 1645.69h0M168.76 1645.52h0M152.6 1613.52h0M158.8 1595.03h0M160.87 1615.28h0M174.75 1685.16h0M161.78 1688.79h0M172.8 1632.21h0M170.14 1616.45h0M157.43 1648.46h0M154.35 1643.81h0M195.97 1573.92h0M192.47 1597.7h0M177.23 1599.66h0M199.61 1642.61h0M190.19 1565.24h0M180.32 1637.74h0M179.49 1557.23h0M179.77 1663.48h0M198.96 1587.06h0M200.95 1543.96h0M181.71 1582.45h0M181.73 1648.56h0M188.58 1559.25h0M183.43 1567.05h0M200.74 1404.13h0M193.15 1581.98h0M197.18 1546.38h0M182.17 1594.62h0M198.53 1587.64h0M194.7 1587.32h0M193.36 1638.07h0M177.6 1637.34h0M180.63 1584.52h0M197.06 1583.02h0M187.71 1551.32h0M194.23 1618.98h0M194.14 1600.92h0M178.05 1644.64h0M178.49 1565.03h0M179.37 1644.36h0M178.89 1685.93h0M181.86 1614.7h0M191.67 1621.75h0M176.32 1589.8h0M200.12 1623.37h0M195.17 1549.99h0M188.62 1638.35h0M186.43 1674.46h0M179.83 1685.79h0M196.81 1556.12h0M192.21 1620.67h0M198.52 1582.83h0M182.8 1632.86h0M177.63 1661.96h0M187.34 1614.69h0M188.96 1599.01h0M198.35 1588.52h0M177.21 1623.3h0M179.92 1516.96h0M181.21 1625.59h0M225.33 1545.48h0M208.02 1532.85h0M218.33 1545.54h0M212.18 1598.32h0M213.89 1558.35h0M207.28 1617.6h0M212.21 1564.77h0M204.32 1561h0M213.08 1578.19h0M220.11 1556.33h0M212.49 1560.38h0M209.81 1641.85h0M217.75 1530.8h0M208.05 1591.62h0M210.54 1538.49h0M212.52 1635.43h0M209.2 1555.2h0M210.64 1630.16h0M209.84 1558.62h0M204.75 1548.64h0M223.67 1560.45h0M203.52 1638.45h0M217.17 1578.55h0M208 1536.14h0M221.92 1606.47h0M212.56 1607.74h0M222.55 1376.56h0M201.86 1636.11h0M216.08 1613.38h0M221.72 1618.75h0M225.84 1618.09h0M204.25 1562.38h0M208.09 1589.44h0M214.44 1590.05h0M215.56 1569.75h0M205.31 1589.81h0M223 1615.64h0M205.68 1589.24h0M214.58 1613.3h0M217.34 1553.12h0M218.67 1507.87h0M203.35 1624.48h0M223.99 1562.1h0M225.88 1561.44h0M203.9 1518.35h0M248.36 1561.03h0M239.84 1496.83h0M232.29 1504.09h0M238.13 1554.04h0M248.15 1520.46h0M237.82 1359.43h0M247.53 1352.76h0M236.29 1535.79h0M242.57 1572.37h0M239.56 1474.61h0M239.95 1533.35h0M228.99 1566.33h0M251.13 1595.31h0M237.88 1585.05h0M249.2 1387.04h0M230.21 1517.09h0M235.36 1587.82h0M235.54 1555.25h0M250.6 1493h0M241.09 1450.83h0M231.09 1564.46h0M237.47 1571.95h0M244.87 1319.7h0M234.62 1543.3h0M240.95 1474.04h0M234.26 1577.4h0M248.08 1511.17h0M240.01 1492.28h0M237.65 1621.42h0M237.69 1547.4h0M250.61 1520.45h0M226.63 1524.85h0M235.07 1561.27h0M235.17 1553.13h0M248.77 1530.98h0M227.1 1514.46h0M231.91 1507.64h0M247.4 1583.98h0M246.99 1480.01h0M248.41 1549.26h0M251.14 1494.98h0M237.02 1540.47h0M232.25 1598.54h0M247.02 1528.75h0M229.19 1480.02h0M248.69 1573.76h0M246.91 1576.14h0M233.93 1558.33h0M238.5 1570.41h0M248.08 1562.14h0M234.26 1587.67h0M246.94 1347.74h0M250.69 1582h0M237.78 1506.83h0M245.19 1523.75h0M268.72 1446.91h0M273.25 1490.31h0M276.43 1493.78h0M272.72 1420.6h0M274.67 1353.56h0M268.46 1526.26h0M268.57 1467.48h0M261.73 1522.04h0M274.5 1481.35h0M264.19 1443.11h0M276.02 1494.6h0M275.87 1535.43h0M271.76 1482.94h0M260.41 1553.91h0M254.2 1540.35h0M254.89 1584.69h0M271.11 1487.74h0M271.88 1565.07h0M270.81 1486.13h0M262.52 1560.94h0M274.14 1521.98h0M263.87 1556.51h0M266.47 1500.11h0M253.94 1564.1h0M268.92 1463.94h0M252.23 1470.06h0M264.92 1564.62h0M275.93 1490.51h0M275.65 1414.86h0M258.29 1478.65h0M267.61 1526.88h0M260.63 1567.47h0M264.48 1477.01h0M272.06 1532.04h0M270.28 1501.55h0M262.59 1457.67h0M268.55 1454.72h0M274.96 1421.23h0M272.23 1476.6h0M252.76 1573.93h0M268.22 1537.06h0M251.57 1483.51h0M269.43 1530.25h0M252.43 1561.31h0M269.12 1462.39h0M273.55 1543.49h0M257.2 1565.03h0M271.49 1429.18h0M262.09 1577.21h0M276.35 1499.13h0M282.8 1514.96h0M277.46 1289.89h0M285.28 1414.87h0M283.13 1402.84h0M289.79 1443.16h0M293.92 1464.55h0M278.53 1328.7h0M288.63 1508.47h0M289.17 1488.76h0M278 1513.33h0M294.14 1470.27h0M280.29 1455.52h0M285.2 1456.81h0M299.41 1468.84h0M283.26 1493.64h0M298.02 1451.6h0M277.49 1470.72h0M281.12 1537.88h0M285.45 1418.78h0M286.95 1406.47h0M285 1425.12h0M277.13 1500.33h0M299.88 1424.83h0M286.92 1489.37h0M282.55 1340.54h0M296.67 1447.86h0M293.73 1495.45h0M288.05 1344.24h0M278.65 1494.93h0M294.22 1434.03h0M278.05 1465.98h0M280.44 1440.14h0M292.09 1426.95h0M278.41 1444.87h0M292.76 1487.11h0M280.89 1480.27h0M296 1467.38h0M277.63 1462.94h0M290.98 1450.5h0M277.89 1521.77h0M297.42 1410h0M298.76 1444.23h0M286.66 1460.41h0M279.63 1475.3h0M292.79 1497.28h0M296.91 1427.04h0M300.82 1445.3h0M297.83 1444.94h0M294.47 1420.8h0M283.24 1554.7h0M307.95 1463.54h0M305.58 1481.66h0M311.97 1403.22h0M323.85 1444.18h0M320.01 1442.9h0M320.6 1452.37h0M317.94 1462.65h0M310.74 1379.51h0M314.29 1405.33h0M318.64 1365.57h0M316.32 1359.15h0M304.27 1446.09h0M301.94 1492.29h0M308.45 1471.22h0M307.96 1378.7h0M322.84 1475.52h0M304.59 1437.6h0M313.18 1382.33h0M307.57 1389.85h0M320 1401.77h0M304.26 1495.61h0M324.84 1466.21h0M318.96 1392.74h0M323.36 1489.21h0M310.19 1458.18h0M301.77 1456.46h0M319.23 1440.52h0M311.01 1458.5h0M323.45 1385.44h0M307.29 1451.11h0M317.33 1418.06h0M323.25 1397.81h0M318.24 1379.51h0M322.04 1471.62h0M314.74 1425.61h0M315.08 1509.29h0M305.03 1397.78h0M309.07 1457.16h0M317.17 1468.34h0M304.16 1507.34h0M302.05 1454.28h0M308.33 1362.32h0M305.92 1386.27h0M312.81 1456.66h0M308.97 1410.13h0M302.96 1411.17h0M325.36 1406.13h0M326.43 1434.38h0M322.2 1402.71h0M321.51 1455.91h0M345.17 1434.39h0M334.42 1429.38h0M346.8 1424.36h0M333.11 1350.4h0M329.5 1438.4h0M346.11 1409.61h0M335.36 1455.21h0M341.56 1448.49h0M338.37 1356.29h0M327.2 1434.67h0M349.95 1387.24h0M347.55 1346.5h0M334.22 1363.62h0M339.69 1364.81h0M338.7 1456.44h0M336 1392.91h0M346.04 1418.11h0M347.55 1354.59h0M328.15 1423.94h0M327.27 1358.39h0M347.21 1344.05h0M349.85 1389.02h0M346.03 1418.86h0M328.46 1373.01h0M341.06 1388.35h0M327.88 1456.09h0M327.98 1384.89h0M328.48 1388.69h0M338.67 1427.44h0M329.06 1464.55h0M335.2 1438.77h0M350.02 1390.91h0M343.33 1404.11h0M331.95 1426.54h0M335.64 1462.22h0M346.39 1425.71h0M346.46 1429.16h0M345.14 1431.11h0M349.2 1338.94h0M329.48 1388.05h0M334 1400.42h0M327.53 1345.28h0M334.61 1381.71h0M343.28 1412.19h0M331.05 1430.18h0M344.93 1311.52h0M346.66 1423.44h0M333.4 1434.98h0M351.34 1369.54h0M349.96 1446.67h0M339.24 1354.89h0M344.06 1333.33h0M334.7 1361.84h0M344.12 1369.66h0M332.41 1459.62h0M332.22 1422.48h0M342.39 1328.58h0M333.91 1422.63h0M347.05 1314.17h0M338.17 1379.56h0M328.45 1390.4h0M341.68 1481.15h0M338.3 1383.01h0M347.85 1391.54h0M345.54 1404.54h0M336.56 1359.76h0M343.36 1444.47h0M335.62 1366.86h0M342.17 1427.71h0M342.56 1430.84h0M328.39 1350.44h0M327.31 1424.39h0M354.97 1324.49h0M371.73 1346.24h0M367.7 1340.3h0M373.05 1371.28h0M353.6 1329.37h0M375.4 1310.45h0M352.91 1317.32h0M374.87 1419.4h0M367.89 1356.68h0M369.56 1338.12h0M352.15 1421.76h0M351.89 1410.31h0M372.33 1456.05h0M352.46 1426.58h0M355.56 1304.19h0M351.97 1324.7h0M359.5 1379.51h0M364.02 1316.7h0M376.84 1361.83h0M356.59 1423.88h0M362.06 1299.5h0M359.55 1433.3h0M362.79 1293.27h0M372.44 1412.92h0M363.72 1405.15h0M358.28 1433.23h0M373.57 1395.32h0M360.01 1364.98h0M366.86 1405.86h0M375.6 1423.54h0M358.01 1356.63h0M358.09 1374.14h0M361.13 1456.85h0M362.09 1440.63h0M357.9 1330.69h0M355.44 1430.64h0M352.82 1444.27h0M363.81 1386.48h0M366.01 1315.54h0M365.69 1404.68h0M353.38 1397.07h0M355.58 1431.18h0M357.06 1427.91h0M365.49 1388.27h0M370.74 1383.15h0M375.15 1396.56h0M373.27 1331.32h0M369.71 1361.97h0M365.96 1378.22h0M359.47 1314.34h0M366.46 1337.02h0M357.96 1405.95h0M352.02 1380.84h0M356.68 1453.22h0M356.36 1394.24h0M370.95 1400.48h0M364.15 1452.53h0M373.83 1411.24h0M361.01 1390.05h0M374.4 1351.48h0M376.05 1385.14h0M370.62 1367.91h0M352.29 1322.59h0M352.84 1326.64h0M372.8 1288.67h0M373.15 1386.2h0M354.14 1431.07h0M370.29 1388.01h0M398.55 1295.9h0M392.37 1431.49h0M384.78 1391.64h0M377.56 1351.37h0M401.48 1349.24h0M382.6 1298.01h0M389.92 1405.41h0M392.53 1266.62h0M392.27 1305.98h0M390.38 1294.26h0M398.57 1313.92h0M401.82 1401.83h0M386.85 1368.78h0M384.53 1365.09h0M400.99 1294.89h0M395.98 1333.65h0M386.22 1310.85h0M397.31 1264.25h0M400.97 1426.9h0M384.24 1323.21h0M385.26 1359.12h0M397.62 1420.65h0M380.77 1311.46h0M382.49 1380.55h0M385.59 1332.39h0M388 1414.6h0M384.33 1341.22h0M392.45 1308.39h0M387.07 1423.28h0M386.49 1387.39h0M379.37 1388.2h0M390.29 1369.55h0M391.89 1423.99h0M378.56 1369.08h0M396.69 1280.85h0M388.49 1377.08h0M390.43 1406.58h0M386.57 1327.69h0M394.59 1427.49h0M390.18 1401.9h0M388.71 1359.78h0M380.27 1306.91h0M400.5 1394.53h0M381.78 1327.54h0M395.38 1328.51h0M392.47 1347.08h0M398.46 1393.7h0M391.11 1407.75h0M380.4 1423.03h0M380.31 1332.24h0M377.29 1378.53h0M397.07 1392.89h0M398.12 1343.17h0M391.71 1337.23h0M381.03 1301.82h0M413.95 1292.45h0M415.73 1263.53h0M418.29 1242.02h0M407.21 1387.46h0M403.93 1311.34h0M413.81 1332.81h0M402.79 1338.72h0M409.8 1269.61h0M405.98 1262.27h0M414.8 1263.94h0M421.48 1222.98h0M405.8 1318.01h0M426.86 1288.61h0M410.36 1343.2h0M421.67 1265.67h0M406.04 1338.81h0M426.12 1338.01h0M407.8 1390.75h0M420.39 1305.24h0M416.9 1260.73h0M416.61 1308.49h0M410.98 1404.09h0M410.46 1360.89h0M419.95 1344.82h0M407.41 1302.87h0M419.01 1274.28h0M402.16 1318.4h0M408.85 1368.81h0M409.11 1296.07h0M413.85 1257.39h0M416.83 1388.72h0M424.4 1259.04h0M408.23 1357.65h0M415.17 1296.95h0M411.82 1288.54h0M421.02 1268.91h0M426.01 1275.19h0M417.37 1323.8h0M407.69 1281.17h0M420.83 1338.37h0M433.62 1333.01h0M435.95 1324.15h0M441.2 1227.21h0M444.4 1326.27h0M442.5 1351.27h0M436.73 1301.52h0M448.21 1313.74h0M449.3 1280.08h0M429.74 1227.26h0M449.24 1286.91h0M441.86 1348.66h0M441.07 1231.32h0M430.92 1226.91h0M449.66 1252.66h0M433.47 1268.47h0M438.14 1314.24h0M446.86 1248.02h0M448.47 1319.21h0M430.14 1282.62h0M431.21 1313.38h0M435.4 1297.89h0M442.13 1238.47h0M430.83 1257.61h0M440.58 1332.8h0M444.75 1329.2h0M433.88 1331.86h0M444.94 1248.5h0M427.92 1339.15h0M433.47 1299.17h0M446.35 1260.52h0M446.04 1250.09h0M433.5 1356.14h0M458.8 1256.4h0M467.93 1283.62h0M473.09 1335.55h0M463.35 1312.56h0M475.43 1272.89h0M470.05 1269.2h0M454.5 1252.21h0M464.82 1321.14h0M470.23 1274.82h0M463.7 1324.75h0M458.33 1252.71h0M465.64 1239.58h0M471.37 1245.3h0M468.19 1312.93h0M473.11 1235.42h0M461.44 1326.61h0M453.31 1342.03h0M467.4 1302.08h0M454.16 1359.91h0M470.98 1337.84h0M463.04 1293.77h0M470.32 1262.02h0M482.15 1242.25h0M500.53 1339.03h0M483.94 1298.85h0M492.74 1272.21h0M479.2 1251.14h0M482.08 1260.41h0M500.42 1274.06h0M485.63 1285.16h0M486.62 1305.48h0M496.74 1302.94h0M483.59 1344.06h0M494.14 1307.4h0M477.83 1286.08h0M483.84 1243.12h0M503.47 1289.4h0M505.26 1306.29h0M514.39 1221.68h0M526.09 1314.86h0M517.9 1240.35h0M513.2 1307.09h0M519.82 1242.38h0M503.43 1327.72h0M513.01 1313.53h0M508.3 1269.89h0M511.98 1303h0M518.47 1327.72h0M537.62 1235.52h0M552.22 1257.79h0M543.09 1227.49h0M548.6 1203.04h0M550.18 1232.9h0M529.39 1249.44h0M542.45 1279.56h0M530.92 1289.67h0M537.11 1194h0M539.7 1283.7h0M535.08 1275.61h0M539.42 1288.51h0M541.9 1282.9h0M533.67 1302.18h0M553.15 1256.46h0M569.07 1284.32h0M563.41 1187.78h0M562.4 1268.35h0M568.62 1212.44h0M562.21 1232.86h0M569.9 1288h0M555.7 1295.35h0M567.8 1269.26h0M569.92 1253.88h0M570.96 1226.36h0M573.94 1251.31h0M554.05 1229.42h0M568.97 1311.02h0M556.5 1271.28h0M566 1222.06h0M566.17 1191.38h0M563.31 1238.89h0M583.3 1307.86h0M577.93 1220.84h0M580.12 1209.76h0M592.28 1201.96h0M580.21 1237.67h0M579.85 1211.46h0M584.12 1197.28h0M595.88 1175.83h0M596.03 1244.64h0M594.43 1225.64h0M601.5 1154.96h0M598.9 1180.31h0M602.59 1259.91h0M582.18 1230.46h0M585.33 1246.72h0M589.77 1302.2h0M593.41 1176.65h0M579.98 1175.25h0M593.9 1208.45h0M600.45 1167.76h0M599.72 1205.4h0M596.35 1220.29h0M583.46 1260.08h0M581.1 1294.94h0M604.19 1181.78h0M625.84 1250.4h0M624.16 1227.16h0M614.15 1177.99h0M626.69 1185.44h0M626.93 1173.55h0M626.71 1175.51h0M622.36 1256.35h0M612.3 1219.95h0M614.99 1176.33h0M615.08 1209.92h0M610.62 1213.02h0M616.01 1203.97h0M626.02 1230.62h0M618.62 1284.09h0M613.66 1195.77h0M612.83 1228.01h0M605.51 1203.57h0M623.37 1250.82h0M624.84 1252.39h0M623.09 1169.43h0M609.62 1273.32h0M618.96 1202.7h0M613.66 1187.54h0M628.18 1176.71h0M638.1 1181.34h0M648.35 1206.27h0M632.27 1213.82h0M651.38 1182.27h0M642.16 1228.59h0M658.51 1249.79h0M147.57 1675.31h0M170.06 1681.27h0M150.21 1673.56h0M134.8 1678.34h0M156.03 1660.55h0M130.49 1691.54h0M130.32 1659.49h0M159.06 1708.09h0M172.83 1649.67h0M157.18 1671.78h0M133.51 1709.79h0M151.19 1706.97h0M135.07 1695.43h0M127.43 1681.38h0M147 1657.42h0M150.75 1670.21h0M149.83 1668.81h0M147.8 1693.13h0M173.57 1647.72h0M166.06 1665.94h0M141.03 1696.2h0M139.78 1706.3h0M162.54 1685.4h0M166.36 1686.28h0M171.68 1657.11h0M126.03 1697.47h0M169.4 1680.99h0M172.74 1685.59h0M129.48 1670.9h0M163.12 1693.67h0M130.15 1689.69h0M171.97 1662.76h0M131.63 1695.15h0M130.82 1706.95h0M164 1699.49h0M152.67 1682.42h0M676.06 1546.59h0M394.5 1568.05h0M276.56 1569.66h0M296.64 1542.3h0M397.01 1183.43h0M429.63 1199.53h0M422.11 1212.94h0" fill="none" stroke="#808080" stroke-width="8.6" stroke-linecap="round"/>
</g>
<path d="M409.5 1509V1519" stroke="#0000ff" stroke-width="4.17" fill="none"/>
<path d="M404.47 1519.1V1531.5" stroke="#ff0000" stroke-width="4.17" fill="none"/>
<path d="M399.44 1448.1V1462.3" stroke="#000000" stroke-width="4.17" fill="none"/>
<path d="M394.41 1477.2V1493.2" stroke="#bf00bf" stroke-width="4.17" fill="none"/>
<path d="M389.38 1450.6V1467.4" stroke="#00bfbf" stroke-width="4.17" fill="none"/>
<path d="M384.35 1458.5V1473.5" stroke="#008000" stroke-width="4.17" fill="none"/>
<path d="M379.32 1404V1418.8" stroke="#bfbf00" stroke-width="4.17" fill="none"/>
<path d="M374.29 1373.8V1415.8" stroke="#ffa500" stroke-width="4.17" fill="none"/>
<path d="M369.26 1400.2V1428.2" stroke="#4b0082" stroke-width="4.17" fill="none"/>
<path d="M364.23 1352.25V1377.95" stroke="#808080" stroke-width="4.17" fill="none"/>
<path d="M716.5 1292.3V1324.3" stroke="#0000ff" stroke-width="4.17" fill="none"/>
<path d="M711.44 1275.9V1310.9" stroke="#ff0000" stroke-width="4.17" fill="none"/>
<path d="M706.38 1145.3V1193.3" stroke="#000000" stroke-width="4.17" fill="none"/>
<path d="M701.32 1206.4V1251" stroke="#bf00bf" stroke-width="4.17" fill="none"/>
<path d="M696.26 1166.2V1212.2" stroke="#00bfbf" stroke-width="4.17" fill="none"/>
<path d="M691.2 1190.3V1237.1" stroke="#008000" stroke-width="4.17" fill="none"/>
<path d="M686.14 1166.8V1215.6" stroke="#bfbf00" stroke-width="4.17" fill="none"/>
<path d="M681.08 1192.1V1236.3" stroke="#ffa500" stroke-width="4.17" fill="none"/>
<path d="M676.02 1157.6V1208.4" stroke="#4b0082" stroke-width="4.17" fill="none"/>
<path d="M670.96 1150.3V1201.3" stroke="#808080" stroke-width="4.17" fill="none"/>
<path d="M409.5 1514L330.5 1479.5" stroke="#0000ff" stroke-width="4.17" fill="none"/>
<circle cx="330.5" cy="1479.5" r="7.25" fill="#0000ff"/><circle cx="409.5" cy="1514" r="7.25" fill="#0000ff"/>
<path d="M397 1509h25M397 1519h25" stroke="#0000ff" stroke-width="2.08" fill="none"/>
<path d="M404.47 1525.3L325.45 1375.5" stroke="#ff0000" stroke-width="4.17" fill="none"/>
<circle cx="325.45" cy="1375.5" r="7.25" fill="#ff0000"/><circle cx="404.47" cy="1525.3" r="7.25" fill="#ff0000"/>
<path d="M391.97 1519.1h25M391.97 1531.5h25" stroke="#ff0000" stroke-width="2.08" fill="none"/>
<path d="M399.44 1455.2L326.3 1389" stroke="#000000" stroke-width="4.17" fill="none"/>
<circle cx="326.3" cy="1389" r="7.25" fill="#000000"/><circle cx="399.44" cy="1455.2" r="7.25" fill="#000000"/>
<path d="M386.94 1448.1h25M386.94 1462.3h25" stroke="#000000" stroke-width="2.08" fill="none"/>
<path d="M394.41 1485.2L334.55 1435.4" stroke="#bf00bf" stroke-width="4.17" fill="none"/>
<circle cx="334.55" cy="1435.4" r="7.25" fill="#bf00bf"/><circle cx="394.41" cy="1485.2" r="7.25" fill="#bf00bf"/>
<path d="M381.91 1477.2h25M381.91 1493.2h25" stroke="#bf00bf" stroke-width="2.08" fill="none"/>
<path d="M389.38 1459L323.2 1371.3" stroke="#00bfbf" stroke-width="4.17" fill="none"/>
<circle cx="323.2" cy="1371.3" r="7.25" fill="#00bfbf"/><circle cx="389.38" cy="1459" r="7.25" fill="#00bfbf"/>
<path d="M376.88 1450.6h25M376.88 1467.4h25" stroke="#00bfbf" stroke-width="2.08" fill="none"/>
<path d="M384.35 1466L328.4 1428.8" stroke="#008000" stroke-width="4.17" fill="none"/>
<circle cx="328.4" cy="1428.8" r="7.25" fill="#008000"/><circle cx="384.35" cy="1466" r="7.25" fill="#008000"/>
<path d="M371.85 1458.5h25M371.85 1473.5h25" stroke="#008000" stroke-width="2.08" fill="none"/>
<path d="M379.32 1411.4L330.2 1415.1" stroke="#bfbf00" stroke-width="4.17" fill="none"/>
<circle cx="330.2" cy="1415.1" r="7.25" fill="#bfbf00"/><circle cx="379.32" cy="1411.4" r="7.25" fill="#bfbf00"/>
<path d="M366.82 1404h25M366.82 1418.8h25" stroke="#bfbf00" stroke-width="2.08" fill="none"/>
<path d="M374.29 1394.8L323.4 1394.3" stroke="#ffa500" stroke-width="4.17" fill="none"/>
<circle cx="323.4" cy="1394.3" r="7.25" fill="#ffa500"/><circle cx="374.29" cy="1394.8" r="7.25" fill="#ffa500"/>
<path d="M361.79 1373.8h25M361.79 1415.8h25" stroke="#ffa500" stroke-width="2.08" fill="none"/>
<path d="M369.26 1414.2L331.4 1433.4" stroke="#4b0082" stroke-width="4.17" fill="none"/>
<circle cx="331.4" cy="1433.4" r="7.25" fill="#4b0082"/><circle cx="369.26" cy="1414.2" r="7.25" fill="#4b0082"/>
<path d="M356.76 1400.2h25M356.76 1428.2h25" stroke="#4b0082" stroke-width="2.08" fill="none"/>
<path d="M364.23 1365.1L331.3 1382.7" stroke="#808080" stroke-width="4.17" fill="none"/>
<circle cx="331.3" cy="1382.7" r="7.25" fill="#808080"/><circle cx="364.23" cy="1365.1" r="7.25" fill="#808080"/>
<path d="M351.73 1352.25h25M351.73 1377.95h25" stroke="#808080" stroke-width="2.08" fill="none"/>
<path d="M716.5 1308.3L619.3 1335.4" stroke="#0000ff" stroke-width="4.17" fill="none" stroke-dasharray="8.33 4.17"/>
<circle cx="619.3" cy="1335.4" r="7.25" fill="#0000ff"/><circle cx="716.5" cy="1308.3" r="7.25" fill="#0000ff"/>
<path d="M704 1292.3h25M704 1324.3h25" stroke="#0000ff" stroke-width="2.08" fill="none"/>
<path d="M711.44 1293.4L625.3 1280.6" stroke="#ff0000" stroke-width="4.17" fill="none" stroke-dasharray="8.33 4.17"/>
<circle cx="625.3" cy="1280.6" r="7.25" fill="#ff0000"/><circle cx="711.44" cy="1293.4" r="7.25" fill="#ff0000"/>
<path d="M698.94 1275.9h25M698.94 1310.9h25" stroke="#ff0000" stroke-width="2.08" fill="none"/>
<path d="M706.38 1169.3L641.4 1263.4" stroke="#000000" stroke-width="4.17" fill="none" stroke-dasharray="8.33 4.17"/>
<circle cx="641.4" cy="1263.4" r="7.25" fill="#000000"/><circle cx="706.38" cy="1169.3" r="7.25" fill="#000000"/>
<path d="M693.88 1145.3h25M693.88 1193.3h25" stroke="#000000" stroke-width="2.08" fill="none"/>
<path d="M701.32 1228.7L619.3 1303.3" stroke="#bf00bf" stroke-width="4.17" fill="none" stroke-dasharray="8.33 4.17"/>
<circle cx="619.3" cy="1303.3" r="7.25" fill="#bf00bf"/><circle cx="701.32" cy="1228.7" r="7.25" fill="#bf00bf"/>
<path d="M688.82 1206.4h25M688.82 1251h25" stroke="#bf00bf" stroke-width="2.08" fill="none"/>
<path d="M696.26 1189.2L616.2 1221" stroke="#00bfbf" stroke-width="4.17" fill="none" stroke-dasharray="8.33 4.17"/>
<circle cx="616.2" cy="1221" r="7.25" fill="#00bfbf"/><circle cx="696.26" cy="1189.2" r="7.25" fill="#00bfbf"/>
<path d="M683.76 1166.2h25M683.76 1212.2h25" stroke="#00bfbf" stroke-width="2.08" fill="none"/>
<path d="M691.2 1213.7L636.3 1263.4" stroke="#008000" stroke-width="4.17" fill="none" stroke-dasharray="8.33 4.17"/>
<circle cx="636.3" cy="1263.4" r="7.25" fill="#008000"/><circle cx="691.2" cy="1213.7" r="7.25" fill="#008000"/>
<path d="M678.7 1190.3h25M678.7 1237.1h25" stroke="#008000" stroke-width="2.08" fill="none"/>
<path d="M686.14 1191.2L627.5 1191.4" stroke="#bfbf00" stroke-width="4.17" fill="none" stroke-dasharray="8.33 4.17"/>
<circle cx="627.5" cy="1191.4" r="7.25" fill="#bfbf00"/><circle cx="686.14" cy="1191.2" r="7.25" fill="#bfbf00"/>
<path d="M673.64 1166.8h25M673.64 1215.6h25" stroke="#bfbf00" stroke-width="2.08" fill="none"/>
<path d="M681.08 1214.2L627.5 1191.8" stroke="#ffa500" stroke-width="4.17" fill="none" stroke-dasharray="8.33 4.17"/>
<circle cx="627.5" cy="1191.8" r="7.25" fill="#ffa500"/><circle cx="681.08" cy="1214.2" r="7.25" fill="#ffa500"/>
<path d="M668.58 1192.1h25M668.58 1236.3h25" stroke="#ffa500" stroke-width="2.08" fill="none"/>
<path d="M676.02 1183L639.5 1278" stroke="#4b0082" stroke-width="4.17" fill="none" stroke-dasharray="8.33 4.17"/>
<circle cx="639.5" cy="1278" r="7.25" fill="#4b0082"/><circle cx="676.02" cy="1183" r="7.25" fill="#4b0082"/>
<path d="M663.52 1157.6h25M663.52 1208.4h25" stroke="#4b0082" stroke-width="2.08" fill="none"/>
<path d="M670.96 1175.8L627.6 1272.8" stroke="#808080" stroke-width="4.17" fill="none" stroke-dasharray="8.33 4.17"/>
<circle cx="627.6" cy="1272.8" r="7.25" fill="#808080"/><circle cx="670.96" cy="1175.8" r="7.25" fill="#808080"/>
<path d="M658.46 1150.3h25M658.46 1201.3h25" stroke="#808080" stroke-width="2.08" fill="none"/>
<path d="M126 1744v-16.7M126 993v16.7M226.38 1744v-16.7M226.38 993v16.7M326.75 1744v-16.7M326.75 993v16.7M427.12 1744v-16.7M427.12 993v16.7M527.5 1744v-16.7M527.5 993v16.7M627.88 1744v-16.7M627.88 993v16.7M728.25 1744v-16.7M728.25 993v16.7M828.62 1744v-16.7M828.62 993v16.7M929 1744v-16.7M929 993v16.7M126 1744h16.7M929 1744h-16.7M126 1636.71h16.7M929 1636.71h-16.7M126 1529.43h16.7M929 1529.43h-16.7M126 1422.14h16.7M929 1422.14h-16.7M126 1314.86h16.7M929 1314.86h-16.7M126 1207.57h16.7M929 1207.57h-16.7M126 1100.29h16.7M929 1100.29h-16.7M126 993h16.7M929 993h-16.7" fill="none" stroke="#000" stroke-width="2.08"/>
<rect x="126" y="993" width="803" height="751" fill="none" stroke="#000" stroke-width="4.17"/>
<text x="126" y="1780.8" font-size="25" text-anchor="middle">4</text>
<text x="226.38" y="1780.8" font-size="25" text-anchor="middle">6</text>
<text x="326.75" y="1780.8" font-size="25" text-anchor="middle">8</text>
<text x="427.12" y="1780.8" font-size="25" text-anchor="middle">10</text>
<text x="527.5" y="1780.8" font-size="25" text-anchor="middle">12</text>
<text x="627.88" y="1780.8" font-size="25" text-anchor="middle">14</text>
<text x="728.25" y="1780.8" font-size="25" text-anchor="middle">16</text>
<text x="828.62" y="1780.8" font-size="25" text-anchor="middle">18</text>
<text x="929" y="1780.8" font-size="25" text-anchor="middle">20</text>
<text x="109.5" y="1751.5" font-size="25" text-anchor="end">200</text>
<text x="109.5" y="1644.21" font-size="25" text-anchor="end">400</text>
<text x="109.5" y="1536.93" font-size="25" text-anchor="end">600</text>
<text x="109.5" y="1429.64" font-size="25" text-anchor="end">800</text>
<text x="109.5" y="1322.36" font-size="25" text-anchor="end">1000</text>
<text x="109.5" y="1215.07" font-size="25" text-anchor="end">1200</text>
<text x="109.5" y="1107.79" font-size="25" text-anchor="end">1400</text>
<text x="109.5" y="1000.5" font-size="25" text-anchor="end">1600</text>
<text x="527.5" y="972.8" font-size="30" text-anchor="middle">Derived tower-top tilt moment</text>
<text transform="translate(19.6 1368.5) rotate(-90)" font-size="25" text-anchor="middle">1Hz eq. load (m = 4) [~kNm]</text>
<text x="527.5" y="1834.5" font-size="26.7" text-anchor="middle">Wsp, Mast3 [m s<tspan dy="-10.7" font-size="18.7">-1</tspan><tspan dy="10.7">]</tspan></text>
<rect x="785" y="1001.1" width="137" height="736.9" fill="#fff" stroke="#000" stroke-width="4.17"/>
<path d="M795 1021.1H845" stroke="#0000ff" stroke-width="4.17" fill="none"/>
<path d="M820.3 1008.6V1033.6" stroke="#0000ff" stroke-width="4.17" fill="none"/>
<circle cx="820.3" cy="1021.1" r="7.25" fill="#0000ff"/>
<path d="M807.8 1008.6h25M807.8 1033.6h25" stroke="#0000ff" stroke-width="2.08" fill="none"/>
<text x="866.7" y="1030.3" font-size="25">P1</text>
<path d="M795 1057.56H845" stroke="#ff0000" stroke-width="4.17" fill="none"/>
<path d="M820.3 1045.06V1070.06" stroke="#ff0000" stroke-width="4.17" fill="none"/>
<circle cx="820.3" cy="1057.56" r="7.25" fill="#ff0000"/>
<path d="M807.8 1045.06h25M807.8 1070.06h25" stroke="#ff0000" stroke-width="2.08" fill="none"/>
<text x="866.7" y="1066.76" font-size="25">P2</text>
<path d="M795 1094.02H845" stroke="#000000" stroke-width="4.17" fill="none"/>
<path d="M820.3 1081.52V1106.52" stroke="#000000" stroke-width="4.17" fill="none"/>
<circle cx="820.3" cy="1094.02" r="7.25" fill="#000000"/>
<path d="M807.8 1081.52h25M807.8 1106.52h25" stroke="#000000" stroke-width="2.08" fill="none"/>
<text x="866.7" y="1103.22" font-size="25">P3</text>
<path d="M795 1130.48H845" stroke="#bf00bf" stroke-width="4.17" fill="none"/>
<path d="M820.3 1117.98V1142.98" stroke="#bf00bf" stroke-width="4.17" fill="none"/>
<circle cx="820.3" cy="1130.48" r="7.25" fill="#bf00bf"/>
<path d="M807.8 1117.98h25M807.8 1142.98h25" stroke="#bf00bf" stroke-width="2.08" fill="none"/>
<text x="866.7" y="1139.68" font-size="25">P4</text>
<path d="M795 1166.94H845" stroke="#00bfbf" stroke-width="4.17" fill="none"/>
<path d="M820.3 1154.44V1179.44" stroke="#00bfbf" stroke-width="4.17" fill="none"/>
<circle cx="820.3" cy="1166.94" r="7.25" fill="#00bfbf"/>
<path d="M807.8 1154.44h25M807.8 1179.44h25" stroke="#00bfbf" stroke-width="2.08" fill="none"/>
<text x="866.7" y="1176.14" font-size="25">P5</text>
<path d="M795 1203.4H845" stroke="#008000" stroke-width="4.17" fill="none"/>
<path d="M820.3 1190.9V1215.9" stroke="#008000" stroke-width="4.17" fill="none"/>
<circle cx="820.3" cy="1203.4" r="7.25" fill="#008000"/>
<path d="M807.8 1190.9h25M807.8 1215.9h25" stroke="#008000" stroke-width="2.08" fill="none"/>
<text x="866.7" y="1212.6" font-size="25">P6</text>
<path d="M795 1239.86H845" stroke="#bfbf00" stroke-width="4.17" fill="none"/>
<path d="M820.3 1227.36V1252.36" stroke="#bfbf00" stroke-width="4.17" fill="none"/>
<circle cx="820.3" cy="1239.86" r="7.25" fill="#bfbf00"/>
<path d="M807.8 1227.36h25M807.8 1252.36h25" stroke="#bfbf00" stroke-width="2.08" fill="none"/>
<text x="866.7" y="1249.06" font-size="25">P7</text>
<path d="M795 1276.32H845" stroke="#ffa500" stroke-width="4.17" fill="none"/>
<path d="M820.3 1263.82V1288.82" stroke="#ffa500" stroke-width="4.17" fill="none"/>
<circle cx="820.3" cy="1276.32" r="7.25" fill="#ffa500"/>
<path d="M807.8 1263.82h25M807.8 1288.82h25" stroke="#ffa500" stroke-width="2.08" fill="none"/>
<text x="866.7" y="1285.52" font-size="25">P8</text>
<path d="M795 1312.78H845" stroke="#4b0082" stroke-width="4.17" fill="none"/>
<path d="M820.3 1300.28V1325.28" stroke="#4b0082" stroke-width="4.17" fill="none"/>
<circle cx="820.3" cy="1312.78" r="7.25" fill="#4b0082"/>
<path d="M807.8 1300.28h25M807.8 1325.28h25" stroke="#4b0082" stroke-width="2.08" fill="none"/>
<text x="866.7" y="1321.98" font-size="25">P9</text>
<path d="M795 1349.24H845" stroke="#808080" stroke-width="4.17" fill="none"/>
<path d="M820.3 1336.74V1361.74" stroke="#808080" stroke-width="4.17" fill="none"/>
<circle cx="820.3" cy="1349.24" r="7.25" fill="#808080"/>
<path d="M807.8 1336.74h25M807.8 1361.74h25" stroke="#808080" stroke-width="2.08" fill="none"/>
<text x="866.7" y="1358.44" font-size="25">P10</text>
<path d="M795 1385.7H845" stroke="#0000ff" stroke-width="4.17" fill="none" stroke-dasharray="8.33 4.17"/>
<path d="M820.3 1373.2V1398.2" stroke="#0000ff" stroke-width="4.17" fill="none"/>
<circle cx="820.3" cy="1385.7" r="7.25" fill="#0000ff"/>
<path d="M807.8 1373.2h25M807.8 1398.2h25" stroke="#0000ff" stroke-width="2.08" fill="none"/>
<text x="866.7" y="1394.9" font-size="25">P11</text>
<path d="M795 1422.16H845" stroke="#ff0000" stroke-width="4.17" fill="none" stroke-dasharray="8.33 4.17"/>
<path d="M820.3 1409.66V1434.66" stroke="#ff0000" stroke-width="4.17" fill="none"/>
<circle cx="820.3" cy="1422.16" r="7.25" fill="#ff0000"/>
<path d="M807.8 1409.66h25M807.8 1434.66h25" stroke="#ff0000" stroke-width="2.08" fill="none"/>
<text x="866.7" y="1431.36" font-size="25">P12</text>
<path d="M795 1458.62H845" stroke="#000000" stroke-width="4.17" fill="none" stroke-dasharray="8.33 4.17"/>
<path d="M820.3 1446.12V1471.12" stroke="#000000" stroke-width="4.17" fill="none"/>
<circle cx="820.3" cy="1458.62" r="7.25" fill="#000000"/>
<path d="M807.8 1446.12h25M807.8 1471.12h25" stroke="#000000" stroke-width="2.08" fill="none"/>
<text x="866.7" y="1467.82" font-size="25">P13</text>
<path d="M795 1495.08H845" stroke="#bf00bf" stroke-width="4.17" fill="none" stroke-dasharray="8.33 4.17"/>
<path d="M820.3 1482.58V1507.58" stroke="#bf00bf" stroke-width="4.17" fill="none"/>
<circle cx="820.3" cy="1495.08" r="7.25" fill="#bf00bf"/>
<path d="M807.8 1482.58h25M807.8 1507.58h25" stroke="#bf00bf" stroke-width="2.08" fill="none"/>
<text x="866.7" y="1504.28" font-size="25">P14</text>
<path d="M795 1531.54H845" stroke="#00bfbf" stroke-width="4.17" fill="none" stroke-dasharray="8.33 4.17"/>
<path d="M820.3 1519.04V1544.04" stroke="#00bfbf" stroke-width="4.17" fill="none"/>
<circle cx="820.3" cy="1531.54" r="7.25" fill="#00bfbf"/>
<path d="M807.8 1519.04h25M807.8 1544.04h25" stroke="#00bfbf" stroke-width="2.08" fill="none"/>
<text x="866.7" y="1540.74" font-size="25">P15</text>
<path d="M795 1568H845" stroke="#008000" stroke-width="4.17" fill="none" stroke-dasharray="8.33 4.17"/>
<path d="M820.3 1555.5V1580.5" stroke="#008000" stroke-width="4.17" fill="none"/>
<circle cx="820.3" cy="1568" r="7.25" fill="#008000"/>
<path d="M807.8 1555.5h25M807.8 1580.5h25" stroke="#008000" stroke-width="2.08" fill="none"/>
<text x="866.7" y="1577.2" font-size="25">P16</text>
<path d="M795 1604.46H845" stroke="#bfbf00" stroke-width="4.17" fill="none" stroke-dasharray="8.33 4.17"/>
<path d="M820.3 1591.96V1616.96" stroke="#bfbf00" stroke-width="4.17" fill="none"/>
<circle cx="820.3" cy="1604.46" r="7.25" fill="#bfbf00"/>
<path d="M807.8 1591.96h25M807.8 1616.96h25" stroke="#bfbf00" stroke-width="2.08" fill="none"/>
<text x="866.7" y="1613.66" font-size="25">P17</text>
<path d="M795 1640.92H845" stroke="#ffa500" stroke-width="4.17" fill="none" stroke-dasharray="8.33 4.17"/>
<path d="M820.3 1628.42V1653.42" stroke="#ffa500" stroke-width="4.17" fill="none"/>
<circle cx="820.3" cy="1640.92" r="7.25" fill="#ffa500"/>
<path d="M807.8 1628.42h25M807.8 1653.42h25" stroke="#ffa500" stroke-width="2.08" fill="none"/>
<text x="866.7" y="1650.12" font-size="25">P18</text>
<path d="M795 1677.38H845" stroke="#4b0082" stroke-width="4.17" fill="none" stroke-dasharray="8.33 4.17"/>
<path d="M820.3 1664.88V1689.88" stroke="#4b0082" stroke-width="4.17" fill="none"/>
<circle cx="820.3" cy="1677.38" r="7.25" fill="#4b0082"/>
<path d="M807.8 1664.88h25M807.8 1689.88h25" stroke="#4b0082" stroke-width="2.08" fill="none"/>
<text x="866.7" y="1686.58" font-size="25">P19</text>
<path d="M795 1713.84H845" stroke="#808080" stroke-width="4.17" fill="none" stroke-dasharray="8.33 4.17"/>
<path d="M820.3 1701.34V1726.34" stroke="#808080" stroke-width="4.17" fill="none"/>
<circle cx="820.3" cy="1713.84" r="7.25" fill="#808080"/>
<path d="M807.8 1701.34h25M807.8 1726.34h25" stroke="#808080" stroke-width="2.08" fill="none"/>
<text x="866.7" y="1723.04" font-size="25">P20</text>
<clipPath id="clip3"><rect x="1129" y="993" width="803" height="751"/></clipPath>
<path d="M1229.38 1744V993M1329.75 1744V993M1430.12 1744V993M1530.5 1744V993M1630.88 1744V993M1731.25 1744V993M1831.62 1744V993M1129 1636.71H1932M1129 1529.43H1932M1129 1422.14H1932M1129 1314.86H1932M1129 1207.57H1932M1129 1100.29H1932" fill="none" stroke="#727272" stroke-width="1.85" stroke-dasharray="8.33 8.33"/>
<g clip-path="url(#clip3)">
<path d="M1150.64 1492.97h0M1139.43 1645.36h0M1129.71 1670.65h0M1138.79 1637.32h0M1137.05 1634.49h0M1133.64 1691.55h0M1141.39 1630.57h0M1149.42 1642.71h0M1132.95 1677.48h0M1143.4 1667.41h0M1145.86 1653.13h0M1132.01 1631.46h0M1132.18 1691.5h0M1132.57 1644.34h0M1137.45 1671.26h0M1133.3 1703.13h0M1134.97 1657.79h0M1146.28 1663.89h0M1145.77 1695.98h0M1134.86 1667.41h0M1140.18 1542.92h0M1151.9 1697.02h0M1137.44 1692.17h0M1137 1621.38h0M1133.22 1647.65h0M1137.44 1620.27h0M1137.92 1692.4h0M1138.9 1678.06h0M1137.05 1640.79h0M1136.7 1673.61h0M1133.21 1699.73h0M1144.09 1643.3h0M1141.17 1685.47h0M1140.06 1685.38h0M1149.31 1669.08h0M1147.16 1672.33h0M1141 1519.46h0M1133.19 1647.51h0M1144.34 1678.05h0M1151.85 1662.51h0M1141.06 1533.13h0M1152.07 1664.01h0M1151.16 1693.03h0M1147.25 1661.34h0M1149.75 1685.63h0M1145.71 1672.66h0M1140.7 1679.08h0M1134.74 1632.34h0M1134.62 1651.18h0M1144.57 1646.56h0M1139.41 1672.87h0M1150.74 1703.33h0M1134.56 1690.58h0M1135.23 1667.54h0M1146.92 1517.59h0M1142.27 1658.28h0M1131.12 1659.75h0M1136.77 1605.54h0M1148.75 1716.66h0M1142.41 1673.49h0M1131.54 1699.32h0M1129.22 1709.13h0M1129.59 1639.88h0M1142.93 1631.88h0M1143.98 1639.67h0M1143.49 1656.27h0M1148.91 1689.77h0M1135.34 1679.59h0M1149.49 1684.72h0M1141.21 1607.46h0M1134.45 1668.95h0M1139.61 1571.68h0M1135.13 1688.89h0M1149.14 1653.9h0M1149.84 1644.28h0M1149.15 1621.15h0M1153.73 1603.66h0M1141.67 1715.4h0M1138.51 1607.76h0M1131.79 1696.33h0M1166.25 1611.88h0M1178.09 1664.81h0M1159.68 1705.15h0M1163.48 1668.73h0M1161.54 1609.13h0M1167.45 1585.68h0M1171.5 1434.73h0M1175.73 1664.15h0M1154.73 1644.94h0M1176.95 1646.65h0M1175.59 1606.57h0M1155.34 1690.57h0M1165.77 1528.05h0M1159.3 1611.41h0M1162.19 1650.23h0M1174.39 1517.3h0M1161.99 1606.06h0M1159.21 1690.19h0M1165.57 1642.95h0M1176.49 1648.3h0M1169.56 1672.85h0M1176.76 1510.93h0M1178.94 1656.75h0M1160.28 1453.51h0M1178.37 1598.7h0M1156.5 1648.05h0M1170.86 1666.94h0M1171.01 1553.26h0M1168.61 1659.76h0M1157.56 1634.79h0M1155.9 1663.77h0M1156.01 1622.55h0M1163.46 1486.31h0M1156.64 1663.48h0M1172.9 1661.13h0M1175.72 1615.04h0M1160.95 1517.73h0M1159.11 1632h0M1168.03 1592.24h0M1158.38 1609.7h0M1175.02 1628.13h0M1167.61 1584.08h0M1178.74 1608.32h0M1164.21 1644.01h0M1175.55 1584.09h0M1156.62 1603.48h0M1156.89 1609.78h0M1160.13 1694.27h0M1176.18 1646.77h0M1166.64 1691.1h0M1171.76 1612.73h0M1155.6 1581.51h0M1161.8 1665.59h0M1163.87 1615.85h0M1177.75 1661.84h0M1164.78 1630.4h0M1175.8 1674.4h0M1173.14 1653.14h0M1160.43 1607.68h0M1157.35 1622.76h0M1198.97 1432.41h0M1195.47 1573.42h0M1180.23 1655.34h0M1202.61 1601.62h0M1193.19 1554.11h0M1183.32 1509.52h0M1182.49 1571.77h0M1182.77 1575.78h0M1201.96 1638.1h0M1203.95 1566.03h0M1184.71 1664.97h0M1184.73 1662.97h0M1191.58 1503.84h0M1186.43 1672.52h0M1203.74 1666.42h0M1196.15 1617.69h0M1200.18 1669.31h0M1185.17 1641.3h0M1201.53 1605.8h0M1197.7 1598.93h0M1196.36 1617.82h0M1180.6 1587.72h0M1183.63 1587.07h0M1200.06 1554.09h0M1190.71 1639.98h0M1197.23 1582.14h0M1197.14 1616.14h0M1181.05 1563.54h0M1181.49 1589.16h0M1182.37 1426.24h0M1181.89 1650.2h0M1184.86 1657.24h0M1194.67 1586.81h0M1179.32 1557.34h0M1203.12 1625.06h0M1198.17 1592.06h0M1191.62 1573.3h0M1189.43 1589.33h0M1182.83 1593.16h0M1199.81 1540.33h0M1195.21 1571.33h0M1201.52 1572.24h0M1185.8 1676.49h0M1180.63 1606.54h0M1190.34 1666.83h0M1191.96 1590.69h0M1201.35 1611.2h0M1180.21 1617.09h0M1182.92 1630.21h0M1184.21 1580.17h0M1228.33 1621.57h0M1211.02 1602.78h0M1221.33 1581.79h0M1215.18 1565.82h0M1216.89 1564.88h0M1210.28 1611.5h0M1215.21 1596.86h0M1207.32 1433.11h0M1216.08 1542.67h0M1223.11 1617.91h0M1215.49 1538.86h0M1212.81 1611.11h0M1220.75 1562.83h0M1211.05 1552.46h0M1213.54 1668.88h0M1215.52 1604.42h0M1212.2 1584.83h0M1213.64 1546.3h0M1212.84 1532.68h0M1207.75 1542.4h0M1226.67 1543.05h0M1206.52 1646.5h0M1220.17 1476.5h0M1211 1603.84h0M1224.92 1581.81h0M1215.56 1610.95h0M1225.55 1540.32h0M1204.86 1563.82h0M1219.08 1614.37h0M1224.72 1610.79h0M1228.84 1620.72h0M1207.25 1631.68h0M1211.09 1470.53h0M1217.44 1563.96h0M1218.56 1574.01h0M1208.31 1622.99h0M1226 1594.47h0M1208.68 1593.14h0M1217.58 1628.21h0M1220.34 1534.61h0M1221.67 1637.07h0M1206.35 1622.08h0M1226.99 1528.4h0M1228.88 1544.14h0M1206.9 1558.11h0M1251.36 1524.57h0M1242.84 1590.5h0M1235.29 1618.07h0M1241.13 1579.59h0M1251.15 1432.79h0M1240.82 1581.64h0M1250.53 1540.18h0M1239.29 1521h0M1245.57 1577.41h0M1242.56 1595.45h0M1242.95 1556.82h0M1231.99 1405.06h0M1254.13 1526.52h0M1240.88 1513.77h0M1252.2 1425.22h0M1233.21 1534.76h0M1238.36 1353.12h0M1238.54 1581.81h0M1253.6 1427.6h0M1244.09 1587.73h0M1234.09 1594.69h0M1240.47 1526.32h0M1247.87 1419.62h0M1237.62 1552.77h0M1243.95 1569.75h0M1237.26 1544.49h0M1251.08 1429.57h0M1243.01 1561.36h0M1240.65 1621.55h0M1240.69 1379.51h0M1253.61 1522.09h0M1229.63 1624.04h0M1238.07 1501.54h0M1238.17 1536.87h0M1251.77 1550.7h0M1230.1 1444.52h0M1234.91 1605.58h0M1250.4 1604.18h0M1249.99 1558.05h0M1251.41 1575.88h0M1254.14 1526.56h0M1240.02 1512.64h0M1235.25 1613.92h0M1250.02 1560.78h0M1232.19 1594.31h0M1251.69 1564.1h0M1249.91 1512h0M1236.93 1582.24h0M1241.5 1590.45h0M1251.08 1527.12h0M1237.26 1602.64h0M1249.94 1413.49h0M1253.69 1529.09h0M1240.78 1557.58h0M1248.19 1348.32h0M1271.72 1546.24h0M1276.25 1469h0M1279.43 1488.84h0M1275.72 1450.53h0M1277.67 1527.9h0M1271.46 1493.84h0M1271.57 1503.25h0M1264.73 1465.67h0M1277.5 1504.81h0M1267.19 1486.74h0M1279.02 1480.36h0M1278.87 1340.18h0M1274.76 1470.94h0M1263.41 1548.17h0M1257.2 1535.5h0M1257.89 1509.15h0M1274.11 1535.25h0M1274.88 1464.86h0M1273.81 1497.37h0M1265.52 1467.46h0M1277.14 1438.84h0M1266.87 1529.88h0M1269.47 1444.79h0M1256.94 1563.59h0M1271.92 1549.47h0M1255.23 1511.35h0M1267.92 1512.59h0M1278.93 1492.34h0M1278.65 1517.76h0M1261.29 1511.64h0M1270.61 1486.96h0M1263.63 1474.54h0M1267.48 1389.91h0M1275.06 1476.19h0M1273.28 1563.73h0M1265.59 1475.23h0M1271.55 1312.12h0M1277.96 1432.86h0M1275.23 1467.77h0M1255.76 1512.59h0M1271.22 1434.95h0M1254.57 1517.81h0M1272.43 1490.04h0M1255.43 1518.41h0M1272.12 1452.75h0M1276.55 1499.03h0M1260.2 1556.41h0M1274.49 1337.62h0M1265.09 1506.42h0M1279.35 1498.75h0M1285.8 1465.26h0M1280.46 1482.34h0M1288.28 1463.07h0M1286.13 1508.36h0M1292.79 1463.14h0M1296.92 1458.95h0M1281.53 1482.82h0M1291.63 1468.2h0M1292.17 1445.43h0M1281 1433.57h0M1297.14 1411.25h0M1283.29 1537.05h0M1288.2 1472.07h0M1302.41 1463.83h0M1286.26 1458.81h0M1301.02 1457.54h0M1280.49 1512.31h0M1284.12 1431.21h0M1288.45 1435.76h0M1289.95 1412.12h0M1288 1474.48h0M1280.13 1437.48h0M1302.88 1487.86h0M1289.92 1461.04h0M1285.55 1460.79h0M1299.67 1439.67h0M1296.73 1465.17h0M1291.05 1433.58h0M1281.65 1515.32h0M1297.22 1460.81h0M1281.05 1422.92h0M1283.44 1506.44h0M1295.09 1418.05h0M1281.41 1517.38h0M1295.76 1403.3h0M1283.89 1423.62h0M1299 1411.5h0M1280.63 1431.04h0M1293.98 1478.75h0M1280.89 1419.07h0M1300.42 1515.38h0M1301.76 1431.71h0M1289.66 1469.3h0M1282.63 1523.11h0M1295.79 1411.85h0M1299.91 1389.63h0M1303.82 1502.55h0M1300.83 1396.85h0M1297.47 1382.73h0M1286.24 1476.39h0M1310.95 1379.04h0M1308.58 1444.95h0M1314.97 1380.13h0M1326.85 1454.54h0M1323.01 1390.7h0M1323.6 1444.8h0M1320.94 1398.52h0M1313.74 1467.63h0M1317.29 1403.56h0M1321.64 1416.08h0M1319.32 1379.49h0M1307.27 1409.06h0M1304.94 1404.38h0M1311.45 1369.41h0M1310.96 1412.7h0M1325.84 1440.41h0M1307.59 1469.61h0M1316.18 1362.91h0M1310.57 1421.36h0M1323 1427h0M1307.26 1418.4h0M1327.84 1368.72h0M1321.96 1433.48h0M1326.36 1469.19h0M1313.19 1366.4h0M1304.77 1485.38h0M1322.23 1503.8h0M1314.01 1401.65h0M1326.45 1436.2h0M1310.29 1426.95h0M1320.33 1373.33h0M1326.25 1430.26h0M1321.24 1438.86h0M1325.04 1465.03h0M1317.74 1369.57h0M1318.08 1382.39h0M1308.03 1394.61h0M1312.07 1456.39h0M1320.17 1364.91h0M1307.16 1460.13h0M1305.05 1422.28h0M1311.33 1421.5h0M1308.92 1375.45h0M1315.81 1452.83h0M1311.97 1440.28h0M1305.96 1411.99h0M1328.36 1447.08h0M1329.43 1372.43h0M1325.2 1424.43h0M1324.51 1360.32h0M1348.17 1432.38h0M1337.42 1353.75h0M1349.8 1458.33h0M1336.11 1347.13h0M1332.5 1466.45h0M1349.11 1343.16h0M1338.36 1361.91h0M1344.56 1389.6h0M1341.37 1367.8h0M1330.2 1486.28h0M1352.95 1321.11h0M1350.55 1408.66h0M1337.22 1320.19h0M1342.69 1386.69h0M1341.7 1357.25h0M1339 1466.11h0M1349.04 1363.16h0M1350.55 1386.78h0M1331.15 1382.24h0M1330.27 1392.97h0M1350.21 1323.07h0M1352.85 1444.77h0M1349.03 1395.93h0M1331.46 1420.77h0M1344.06 1466.46h0M1330.88 1454.38h0M1330.98 1502.46h0M1331.48 1374.59h0M1341.67 1436.89h0M1332.06 1437.99h0M1338.2 1445.07h0M1353.02 1393.93h0M1346.33 1400.76h0M1334.95 1415.06h0M1338.64 1351.7h0M1349.39 1426.99h0M1349.46 1359.65h0M1348.14 1376.66h0M1352.2 1320.01h0M1332.48 1464.24h0M1337 1397.57h0M1330.53 1435.08h0M1337.61 1385.94h0M1346.28 1407.2h0M1334.05 1423.74h0M1347.93 1377.91h0M1349.66 1406.41h0M1336.4 1441.19h0M1354.34 1409.17h0M1352.96 1394.75h0M1342.24 1344.16h0M1347.06 1414.77h0M1337.7 1382.36h0M1347.12 1431.54h0M1335.41 1380.02h0M1335.22 1413.1h0M1345.39 1408.31h0M1336.91 1378.42h0M1350.05 1314.14h0M1341.17 1386.79h0M1331.45 1453.31h0M1344.68 1325.61h0M1341.3 1447.26h0M1350.85 1410.13h0M1348.54 1442.67h0M1339.56 1467.67h0M1346.36 1385.18h0M1338.62 1437.43h0M1345.17 1365.8h0M1345.56 1333.45h0M1331.39 1448.67h0M1330.31 1394.19h0M1357.97 1321.34h0M1374.73 1288.05h0M1370.7 1284.07h0M1376.05 1370.22h0M1356.6 1320.38h0M1378.4 1354.18h0M1355.91 1417.51h0M1377.87 1296.99h0M1370.89 1319.05h0M1372.56 1351.02h0M1355.15 1378.83h0M1354.89 1400.68h0M1375.33 1377.86h0M1355.46 1343.23h0M1358.56 1405.98h0M1354.97 1285.23h0M1362.5 1360.13h0M1367.02 1321.11h0M1379.84 1308.2h0M1359.59 1436.62h0M1365.06 1391.36h0M1362.55 1395.97h0M1365.79 1389.49h0M1375.44 1339.32h0M1366.72 1396.59h0M1361.28 1339.91h0M1376.57 1394.39h0M1363.01 1412.06h0M1369.86 1311.86h0M1378.6 1356.2h0M1361.01 1316.87h0M1361.09 1369.14h0M1364.13 1385.53h0M1365.09 1386.54h0M1360.9 1385.13h0M1358.44 1402h0M1355.82 1323.69h0M1366.81 1382.78h0M1369.01 1326.76h0M1368.69 1345.65h0M1356.38 1320.19h0M1358.58 1333.01h0M1360.06 1336.14h0M1368.49 1347.6h0M1373.74 1397.52h0M1378.15 1408.78h0M1376.27 1333.39h0M1372.71 1382.7h0M1368.96 1404.58h0M1362.47 1348.99h0M1369.46 1373.23h0M1360.96 1315.06h0M1355.02 1327.35h0M1359.68 1372.44h0M1359.36 1432.45h0M1373.95 1291.39h0M1367.15 1416.03h0M1376.83 1324.15h0M1364.01 1416.44h0M1377.4 1341.2h0M1379.05 1390.16h0M1373.62 1331.03h0M1355.29 1406.49h0M1355.84 1345.85h0M1375.8 1395.78h0M1376.15 1378.94h0M1357.14 1393.09h0M1373.29 1278.98h0M1401.55 1254.76h0M1395.37 1275.21h0M1387.78 1297.41h0M1380.56 1308.37h0M1404.48 1347.95h0M1385.6 1364.19h0M1392.92 1278.13h0M1395.53 1367.19h0M1395.27 1299.41h0M1393.38 1298.66h0M1401.57 1270.87h0M1404.82 1315.86h0M1389.85 1326.78h0M1387.53 1258.04h0M1403.99 1298.45h0M1398.98 1390.33h0M1389.22 1316.92h0M1400.31 1267.11h0M1403.97 1289.6h0M1387.24 1390.12h0M1388.26 1305.31h0M1400.62 1347.16h0M1383.77 1361.77h0M1385.49 1281.84h0M1388.59 1340.5h0M1391 1365.2h0M1387.33 1395.19h0M1395.45 1284.14h0M1390.07 1392.4h0M1389.49 1326.55h0M1382.37 1374.1h0M1393.29 1368.29h0M1394.89 1352.98h0M1381.56 1288.41h0M1399.69 1372.68h0M1391.49 1298.7h0M1393.43 1281.25h0M1389.57 1315.03h0M1397.59 1334.8h0M1393.18 1371.47h0M1391.71 1280.26h0M1383.27 1280.08h0M1403.5 1327.83h0M1384.78 1321.17h0M1398.38 1374.62h0M1395.47 1314.82h0M1401.46 1388.27h0M1394.11 1340.9h0M1383.4 1313.4h0M1383.31 1334h0M1380.29 1360.38h0M1400.07 1313.97h0M1401.12 1382.49h0M1394.71 1329.26h0M1384.03 1393.01h0M1416.95 1273.72h0M1418.73 1257.06h0M1421.29 1304.26h0M1410.21 1341.11h0M1406.93 1301.11h0M1416.81 1329.53h0M1405.79 1256.01h0M1412.8 1272.43h0M1408.98 1290.16h0M1417.8 1328h0M1424.48 1345.81h0M1408.8 1367.24h0M1429.86 1290.69h0M1413.36 1320.33h0M1424.67 1289.35h0M1409.04 1339.98h0M1429.12 1321.83h0M1410.8 1284.34h0M1423.39 1340.08h0M1419.9 1344.44h0M1419.61 1293.26h0M1413.98 1313.67h0M1413.46 1380.11h0M1422.95 1268.19h0M1410.41 1316.14h0M1422.01 1343.94h0M1405.16 1339.37h0M1411.85 1311.82h0M1412.11 1334.43h0M1416.85 1382.44h0M1419.83 1302.26h0M1427.4 1356.95h0M1411.23 1342.43h0M1418.17 1258.6h0M1414.82 1346.7h0M1424.02 1374.52h0M1429.01 1307.49h0M1420.37 1333.93h0M1410.69 1320.78h0M1423.83 1352.54h0M1436.62 1353.56h0M1438.95 1265.63h0M1444.2 1374.37h0M1447.4 1250.87h0M1445.5 1346.61h0M1439.73 1250.27h0M1451.21 1302.54h0M1452.3 1259.86h0M1432.74 1242.38h0M1452.24 1289.03h0M1444.86 1292.11h0M1444.07 1314.35h0M1433.92 1347.33h0M1452.66 1241.66h0M1436.47 1353.71h0M1441.14 1319.02h0M1449.86 1283.1h0M1451.47 1359.79h0M1433.14 1263.44h0M1434.21 1244.8h0M1438.4 1331.74h0M1445.13 1268.16h0M1433.83 1333.48h0M1443.58 1360.85h0M1447.75 1338.73h0M1436.88 1339.34h0M1447.94 1273.5h0M1430.92 1288.46h0M1436.47 1339.59h0M1449.35 1360.93h0M1449.04 1342h0M1436.5 1304.35h0M1461.8 1276.17h0M1470.93 1325.19h0M1476.09 1277.88h0M1466.35 1261.55h0M1478.43 1331.99h0M1473.05 1252.25h0M1457.5 1368.87h0M1467.82 1288.87h0M1473.23 1315.19h0M1466.7 1257.48h0M1461.33 1346.5h0M1468.64 1258.71h0M1474.37 1238.53h0M1471.19 1308.2h0M1476.11 1327.24h0M1464.44 1244.07h0M1456.31 1331.75h0M1470.4 1301.86h0M1457.16 1273.22h0M1473.98 1364.7h0M1466.04 1281.5h0M1473.32 1282.33h0M1485.15 1346.33h0M1503.53 1303.36h0M1486.94 1346.52h0M1495.74 1326.49h0M1482.2 1307.53h0M1485.08 1331.58h0M1503.42 1262.65h0M1488.63 1345.9h0M1489.62 1235.94h0M1499.74 1212.82h0M1486.59 1358.84h0M1497.14 1255.14h0M1480.83 1276.81h0M1486.84 1263.94h0M1506.47 1374.18h0M1508.26 1236.85h0M1517.39 1322.28h0M1529.09 1281.57h0M1520.9 1266.18h0M1516.2 1301.81h0M1522.82 1295.45h0M1506.43 1272.95h0M1516.01 1321.23h0M1511.3 1263.84h0M1514.98 1319.59h0M1521.47 1271.28h0M1540.62 1353.2h0M1555.22 1283.93h0M1546.09 1249.53h0M1551.6 1311.12h0M1553.18 1220.89h0M1532.39 1269.81h0M1545.45 1300.32h0M1533.92 1245.79h0M1540.11 1207.99h0M1542.7 1220.37h0M1538.08 1273.37h0M1542.42 1280.99h0M1544.9 1215.85h0M1536.67 1298.91h0M1556.15 1223.93h0M1572.07 1208.32h0M1566.41 1352.11h0M1565.4 1219.48h0M1571.62 1262.82h0M1565.21 1298.1h0M1572.9 1259.39h0M1558.7 1327.92h0M1570.8 1325.17h0M1572.92 1257.34h0M1573.96 1221.41h0M1576.94 1266.79h0M1557.05 1246.64h0M1571.97 1198.52h0M1559.5 1250.56h0M1569 1228.68h0M1569.17 1280.97h0M1566.31 1324.23h0M1586.3 1179.77h0M1580.93 1250.42h0M1583.12 1352.96h0M1595.28 1211.48h0M1583.21 1294.59h0M1582.85 1299.38h0M1587.12 1299.85h0M1598.88 1209.39h0M1599.03 1312.54h0M1597.43 1253.18h0M1604.5 1225.83h0M1601.9 1265.62h0M1605.59 1196.35h0M1585.18 1319.37h0M1588.33 1252.77h0M1592.77 1277.74h0M1596.41 1221.61h0M1582.98 1237.24h0M1596.9 1282.69h0M1603.45 1183.92h0M1602.72 1379.42h0M1599.35 1285.09h0M1586.46 1286.57h0M1584.1 1194.6h0M1607.19 1298.97h0M1628.84 1323.23h0M1627.16 1141.7h0M1617.15 1200.96h0M1629.69 1274.85h0M1629.93 1365.88h0M1629.71 1245.39h0M1625.36 1281.68h0M1615.3 1351.77h0M1617.99 1242.13h0M1618.08 1322.32h0M1613.62 1320.1h0M1619.01 1192.94h0M1629.02 1228.03h0M1621.62 1188.81h0M1616.66 1197.93h0M1615.83 1251.24h0M1608.51 1214.25h0M1626.37 1177.8h0M1627.84 1285.43h0M1626.09 1202.98h0M1612.62 1334.42h0M1621.96 1309.8h0M1616.66 1175.16h0M1631.18 1244.68h0M1641.1 1250.86h0M1651.35 1305.37h0M1635.27 1237.81h0M1654.38 1224.61h0M1645.16 1220.9h0M1661.51 1167.94h0M1151.63 1663.83h0M1160.77 1700.57h0M1129.52 1684h0M1142.07 1652.93h0M1161.93 1667.83h0M1155.61 1663.56h0M1135.93 1679.35h0M1136.74 1646.1h0M1131.8 1652.32h0M1132.56 1661.73h0M1145.07 1681.87h0M1169.16 1709.41h0M1131.9 1645.46h0M1153.26 1704.25h0M1176.06 1643.2h0M1134.37 1680.55h0M1135.44 1688.44h0M1158.63 1699.07h0M1162.22 1707.08h0M1137.16 1652.55h0M1148.1 1680.86h0M1157.41 1676.73h0M1147.34 1708.57h0M1163.63 1641.72h0M1175.55 1663.4h0M1145.99 1684.83h0M1161.9 1662.67h0M1134.43 1693.98h0M1146.32 1674.26h0M1167.62 1675.07h0M1130.34 1652.06h0M1149.51 1673.71h0M1139.59 1680.26h0M1147.51 1655.67h0M1133.89 1671.5h0M1137.49 1661.09h0M1679.06 1564.3h0M1397.5 1583.07h0M1299.64 1565.91h0M1593.23 1153.93h0M1545.56 1174.31h0M1402.52 1212.94h0M1417.58 1207.57h0" fill="none" stroke="#808080" stroke-width="8.6" stroke-linecap="round"/>
</g>
<path d="M1412.5 1492.2V1508.2" stroke="#0000ff" stroke-width="4.17" fill="none"/>
<path d="M1407.47 1509.05V1527.35" stroke="#ff0000" stroke-width="4.17" fill="none"/>
<path d="M1402.44 1440.5V1463.5" stroke="#000000" stroke-width="4.17" fill="none"/>
<path d="M1397.41 1469.95V1488.95" stroke="#bf00bf" stroke-width="4.17" fill="none"/>
<path d="M1392.38 1439.9V1465.9" stroke="#00bfbf" stroke-width="4.17" fill="none"/>
<path d="M1387.35 1448.1V1470.9" stroke="#008000" stroke-width="4.17" fill="none"/>
<path d="M1382.32 1388.2V1416.8" stroke="#bfbf00" stroke-width="4.17" fill="none"/>
<path d="M1377.29 1376.3V1402.3" stroke="#ffa500" stroke-width="4.17" fill="none"/>
<path d="M1372.26 1387V1425" stroke="#4b0082" stroke-width="4.17" fill="none"/>
<path d="M1367.23 1347.1V1369.9" stroke="#808080" stroke-width="4.17" fill="none"/>
<path d="M1719.5 1305.4V1323.4" stroke="#0000ff" stroke-width="4.17" fill="none"/>
<path d="M1714.44 1287.9V1308.9" stroke="#ff0000" stroke-width="4.17" fill="none"/>
<path d="M1709.38 1155.3V1189.3" stroke="#000000" stroke-width="4.17" fill="none"/>
<path d="M1704.32 1216.4V1243.8" stroke="#bf00bf" stroke-width="4.17" fill="none"/>
<path d="M1699.26 1173V1202.2" stroke="#00bfbf" stroke-width="4.17" fill="none"/>
<path d="M1694.2 1199.8V1230.6" stroke="#008000" stroke-width="4.17" fill="none"/>
<path d="M1689.14 1174.1V1204.1" stroke="#bfbf00" stroke-width="4.17" fill="none"/>
<path d="M1684.08 1201V1228.2" stroke="#ffa500" stroke-width="4.17" fill="none"/>
<path d="M1679.02 1165.6V1196.4" stroke="#4b0082" stroke-width="4.17" fill="none"/>
<path d="M1673.96 1161.4V1194.4" stroke="#808080" stroke-width="4.17" fill="none"/>
<path d="M1412.5 1500.2L1333.5 1512.6" stroke="#0000ff" stroke-width="4.17" fill="none"/>
<circle cx="1333.5" cy="1512.6" r="7.25" fill="#0000ff"/><circle cx="1412.5" cy="1500.2" r="7.25" fill="#0000ff"/>
<path d="M1400 1492.2h25M1400 1508.2h25" stroke="#0000ff" stroke-width="2.08" fill="none"/>
<path d="M1407.47 1518.2L1328.45 1409.3" stroke="#ff0000" stroke-width="4.17" fill="none"/>
<circle cx="1328.45" cy="1409.3" r="7.25" fill="#ff0000"/><circle cx="1407.47" cy="1518.2" r="7.25" fill="#ff0000"/>
<path d="M1394.97 1509.05h25M1394.97 1527.35h25" stroke="#ff0000" stroke-width="2.08" fill="none"/>
<path d="M1402.44 1452L1329.3 1421" stroke="#000000" stroke-width="4.17" fill="none"/>
<circle cx="1329.3" cy="1421" r="7.25" fill="#000000"/><circle cx="1402.44" cy="1452" r="7.25" fill="#000000"/>
<path d="M1389.94 1440.5h25M1389.94 1463.5h25" stroke="#000000" stroke-width="2.08" fill="none"/>
<path d="M1397.41 1479.45L1337.55 1468.8" stroke="#bf00bf" stroke-width="4.17" fill="none"/>
<circle cx="1337.55" cy="1468.8" r="7.25" fill="#bf00bf"/><circle cx="1397.41" cy="1479.45" r="7.25" fill="#bf00bf"/>
<path d="M1384.91 1469.95h25M1384.91 1488.95h25" stroke="#bf00bf" stroke-width="2.08" fill="none"/>
<path d="M1392.38 1452.9L1326.2 1369.25" stroke="#00bfbf" stroke-width="4.17" fill="none"/>
<circle cx="1326.2" cy="1369.25" r="7.25" fill="#00bfbf"/><circle cx="1392.38" cy="1452.9" r="7.25" fill="#00bfbf"/>
<path d="M1379.88 1439.9h25M1379.88 1465.9h25" stroke="#00bfbf" stroke-width="2.08" fill="none"/>
<path d="M1387.35 1459.5L1331.4 1463.2" stroke="#008000" stroke-width="4.17" fill="none"/>
<circle cx="1331.4" cy="1463.2" r="7.25" fill="#008000"/><circle cx="1387.35" cy="1459.5" r="7.25" fill="#008000"/>
<path d="M1374.85 1448.1h25M1374.85 1470.9h25" stroke="#008000" stroke-width="2.08" fill="none"/>
<path d="M1382.32 1402.5L1333.2 1437.5" stroke="#bfbf00" stroke-width="4.17" fill="none"/>
<circle cx="1333.2" cy="1437.5" r="7.25" fill="#bfbf00"/><circle cx="1382.32" cy="1402.5" r="7.25" fill="#bfbf00"/>
<path d="M1369.82 1388.2h25M1369.82 1416.8h25" stroke="#bfbf00" stroke-width="2.08" fill="none"/>
<path d="M1377.29 1389.3L1326.4 1401.3" stroke="#ffa500" stroke-width="4.17" fill="none"/>
<circle cx="1326.4" cy="1401.3" r="7.25" fill="#ffa500"/><circle cx="1377.29" cy="1389.3" r="7.25" fill="#ffa500"/>
<path d="M1364.79 1376.3h25M1364.79 1402.3h25" stroke="#ffa500" stroke-width="2.08" fill="none"/>
<path d="M1372.26 1406L1334.4 1416.1" stroke="#4b0082" stroke-width="4.17" fill="none"/>
<circle cx="1334.4" cy="1416.1" r="7.25" fill="#4b0082"/><circle cx="1372.26" cy="1406" r="7.25" fill="#4b0082"/>
<path d="M1359.76 1387h25M1359.76 1425h25" stroke="#4b0082" stroke-width="2.08" fill="none"/>
<path d="M1367.23 1358.5L1334.3 1420.3" stroke="#808080" stroke-width="4.17" fill="none"/>
<circle cx="1334.3" cy="1420.3" r="7.25" fill="#808080"/><circle cx="1367.23" cy="1358.5" r="7.25" fill="#808080"/>
<path d="M1354.73 1347.1h25M1354.73 1369.9h25" stroke="#808080" stroke-width="2.08" fill="none"/>
<path d="M1719.5 1314.4L1622.3 1381.3" stroke="#0000ff" stroke-width="4.17" fill="none" stroke-dasharray="8.33 4.17"/>
<circle cx="1622.3" cy="1381.3" r="7.25" fill="#0000ff"/><circle cx="1719.5" cy="1314.4" r="7.25" fill="#0000ff"/>
<path d="M1707 1305.4h25M1707 1323.4h25" stroke="#0000ff" stroke-width="2.08" fill="none"/>
<path d="M1714.44 1298.4L1628.3 1330.6" stroke="#ff0000" stroke-width="4.17" fill="none" stroke-dasharray="8.33 4.17"/>
<circle cx="1628.3" cy="1330.6" r="7.25" fill="#ff0000"/><circle cx="1714.44" cy="1298.4" r="7.25" fill="#ff0000"/>
<path d="M1701.94 1287.9h25M1701.94 1308.9h25" stroke="#ff0000" stroke-width="2.08" fill="none"/>
<path d="M1709.38 1172.3L1644.4 1300.1" stroke="#000000" stroke-width="4.17" fill="none" stroke-dasharray="8.33 4.17"/>
<circle cx="1644.4" cy="1300.1" r="7.25" fill="#000000"/><circle cx="1709.38" cy="1172.3" r="7.25" fill="#000000"/>
<path d="M1696.88 1155.3h25M1696.88 1189.3h25" stroke="#000000" stroke-width="2.08" fill="none"/>
<path d="M1704.32 1230.1L1622.3 1329.4" stroke="#bf00bf" stroke-width="4.17" fill="none" stroke-dasharray="8.33 4.17"/>
<circle cx="1622.3" cy="1329.4" r="7.25" fill="#bf00bf"/><circle cx="1704.32" cy="1230.1" r="7.25" fill="#bf00bf"/>
<path d="M1691.82 1216.4h25M1691.82 1243.8h25" stroke="#bf00bf" stroke-width="2.08" fill="none"/>
<path d="M1699.26 1187.6L1619.2 1248.5" stroke="#00bfbf" stroke-width="4.17" fill="none" stroke-dasharray="8.33 4.17"/>
<circle cx="1619.2" cy="1248.5" r="7.25" fill="#00bfbf"/><circle cx="1699.26" cy="1187.6" r="7.25" fill="#00bfbf"/>
<path d="M1686.76 1173h25M1686.76 1202.2h25" stroke="#00bfbf" stroke-width="2.08" fill="none"/>
<path d="M1694.2 1215.2L1639.3 1309.2" stroke="#008000" stroke-width="4.17" fill="none" stroke-dasharray="8.33 4.17"/>
<circle cx="1639.3" cy="1309.2" r="7.25" fill="#008000"/><circle cx="1694.2" cy="1215.2" r="7.25" fill="#008000"/>
<path d="M1681.7 1199.8h25M1681.7 1230.6h25" stroke="#008000" stroke-width="2.08" fill="none"/>
<path d="M1689.14 1189.1L1630.5 1223.2" stroke="#bfbf00" stroke-width="4.17" fill="none" stroke-dasharray="8.33 4.17"/>
<circle cx="1630.5" cy="1223.2" r="7.25" fill="#bfbf00"/><circle cx="1689.14" cy="1189.1" r="7.25" fill="#bfbf00"/>
<path d="M1676.64 1174.1h25M1676.64 1204.1h25" stroke="#bfbf00" stroke-width="2.08" fill="none"/>
<path d="M1684.08 1214.6L1630.5 1239.3" stroke="#ffa500" stroke-width="4.17" fill="none" stroke-dasharray="8.33 4.17"/>
<circle cx="1630.5" cy="1239.3" r="7.25" fill="#ffa500"/><circle cx="1684.08" cy="1214.6" r="7.25" fill="#ffa500"/>
<path d="M1671.58 1201h25M1671.58 1228.2h25" stroke="#ffa500" stroke-width="2.08" fill="none"/>
<path d="M1679.02 1181L1642.5 1331.4" stroke="#4b0082" stroke-width="4.17" fill="none" stroke-dasharray="8.33 4.17"/>
<circle cx="1642.5" cy="1331.4" r="7.25" fill="#4b0082"/><circle cx="1679.02" cy="1181" r="7.25" fill="#4b0082"/>
<path d="M1666.52 1165.6h25M1666.52 1196.4h25" stroke="#4b0082" stroke-width="2.08" fill="none"/>
<path d="M1673.96 1177.9L1630.6 1302.7" stroke="#808080" stroke-width="4.17" fill="none" stroke-dasharray="8.33 4.17"/>
<circle cx="1630.6" cy="1302.7" r="7.25" fill="#808080"/><circle cx="1673.96" cy="1177.9" r="7.25" fill="#808080"/>
<path d="M1661.46 1161.4h25M1661.46 1194.4h25" stroke="#808080" stroke-width="2.08" fill="none"/>
<path d="M1129 1744v-16.7M1129 993v16.7M1229.38 1744v-16.7M1229.38 993v16.7M1329.75 1744v-16.7M1329.75 993v16.7M1430.12 1744v-16.7M1430.12 993v16.7M1530.5 1744v-16.7M1530.5 993v16.7M1630.88 1744v-16.7M1630.88 993v16.7M1731.25 1744v-16.7M1731.25 993v16.7M1831.62 1744v-16.7M1831.62 993v16.7M1932 1744v-16.7M1932 993v16.7M1129 1744h16.7M1932 1744h-16.7M1129 1636.71h16.7M1932 1636.71h-16.7M1129 1529.43h16.7M1932 1529.43h-16.7M1129 1422.14h16.7M1932 1422.14h-16.7M1129 1314.86h16.7M1932 1314.86h-16.7M1129 1207.57h16.7M1932 1207.57h-16.7M1129 1100.29h16.7M1932 1100.29h-16.7M1129 993h16.7M1932 993h-16.7" fill="none" stroke="#000" stroke-width="2.08"/>
<rect x="1129" y="993" width="803" height="751" fill="none" stroke="#000" stroke-width="4.17"/>
<text x="1129" y="1780.8" font-size="25" text-anchor="middle">4</text>
<text x="1229.38" y="1780.8" font-size="25" text-anchor="middle">6</text>
<text x="1329.75" y="1780.8" font-size="25" text-anchor="middle">8</text>
<text x="1430.12" y="1780.8" font-size="25" text-anchor="middle">10</text>
<text x="1530.5" y="1780.8" font-size="25" text-anchor="middle">12</text>
<text x="1630.88" y="1780.8" font-size="25" text-anchor="middle">14</text>
<text x="1731.25" y="1780.8" font-size="25" text-anchor="middle">16</text>
<text x="1831.62" y="1780.8" font-size="25" text-anchor="middle">18</text>
<text x="1932" y="1780.8" font-size="25" text-anchor="middle">20</text>
<text x="1112.5" y="1751.5" font-size="25" text-anchor="end">200</text>
<text x="1112.5" y="1644.21" font-size="25" text-anchor="end">400</text>
<text x="1112.5" y="1536.93" font-size="25" text-anchor="end">600</text>
<text x="1112.5" y="1429.64" font-size="25" text-anchor="end">800</text>
<text x="1112.5" y="1322.36" font-size="25" text-anchor="end">1000</text>
<text x="1112.5" y="1215.07" font-size="25" text-anchor="end">1200</text>
<text x="1112.5" y="1107.79" font-size="25" text-anchor="end">1400</text>
<text x="1112.5" y="1000.5" font-size="25" text-anchor="end">1600</text>
<text x="1530.5" y="972.8" font-size="30" text-anchor="middle">Derived tower-top yaw moment</text>
<text transform="translate(1022.6 1368.5) rotate(-90)" font-size="25" text-anchor="middle">1Hz eq. load (m = 4) [~kNm]</text>
<text x="1530.5" y="1834.5" font-size="26.7" text-anchor="middle">Wsp, Mast3 [m s<tspan dy="-10.7" font-size="18.7">-1</tspan><tspan dy="10.7">]</tspan></text>
<rect x="1788" y="1001.1" width="137" height="736.9" fill="#fff" stroke="#000" stroke-width="4.17"/>
<path d="M1798 1021.1H1848" stroke="#0000ff" stroke-width="4.17" fill="none"/>
<path d="M1823.3 1008.6V1033.6" stroke="#0000ff" stroke-width="4.17" fill="none"/>
<circle cx="1823.3" cy="1021.1" r="7.25" fill="#0000ff"/>
<path d="M1810.8 1008.6h25M1810.8 1033.6h25" stroke="#0000ff" stroke-width="2.08" fill="none"/>
<text x="1869.7" y="1030.3" font-size="25">P1</text>
<path d="M1798 1057.56H1848" stroke="#ff0000" stroke-width="4.17" fill="none"/>
<path d="M1823.3 1045.06V1070.06" stroke="#ff0000" stroke-width="4.17" fill="none"/>
<circle cx="1823.3" cy="1057.56" r="7.25" fill="#ff0000"/>
<path d="M1810.8 1045.06h25M1810.8 1070.06h25" stroke="#ff0000" stroke-width="2.08" fill="none"/>
<text x="1869.7" y="1066.76" font-size="25">P2</text>
<path d="M1798 1094.02H1848" stroke="#000000" stroke-width="4.17" fill="none"/>
<path d="M1823.3 1081.52V1106.52" stroke="#000000" stroke-width="4.17" fill="none"/>
<circle cx="1823.3" cy="1094.02" r="7.25" fill="#000000"/>
<path d="M1810.8 1081.52h25M1810.8 1106.52h25" stroke="#000000" stroke-width="2.08" fill="none"/>
<text x="1869.7" y="1103.22" font-size="25">P3</text>
<path d="M1798 1130.48H1848" stroke="#bf00bf" stroke-width="4.17" fill="none"/>
<path d="M1823.3 1117.98V1142.98" stroke="#bf00bf" stroke-width="4.17" fill="none"/>
<circle cx="1823.3" cy="1130.48" r="7.25" fill="#bf00bf"/>
<path d="M1810.8 1117.98h25M1810.8 1142.98h25" stroke="#bf00bf" stroke-width="2.08" fill="none"/>
<text x="1869.7" y="1139.68" font-size="25">P4</text>
<path d="M1798 1166.94H1848" stroke="#00bfbf" stroke-width="4.17" fill="none"/>
<path d="M1823.3 1154.44V1179.44" stroke="#00bfbf" stroke-width="4.17" fill="none"/>
<circle cx="1823.3" cy="1166.94" r="7.25" fill="#00bfbf"/>
<path d="M1810.8 1154.44h25M1810.8 1179.44h25" stroke="#00bfbf" stroke-width="2.08" fill="none"/>
<text x="1869.7" y="1176.14" font-size="25">P5</text>
<path d="M1798 1203.4H1848" stroke="#008000" stroke-width="4.17" fill="none"/>
<path d="M1823.3 1190.9V1215.9" stroke="#008000" stroke-width="4.17" fill="none"/>
<circle cx="1823.3" cy="1203.4" r="7.25" fill="#008000"/>
<path d="M1810.8 1190.9h25M1810.8 1215.9h25" stroke="#008000" stroke-width="2.08" fill="none"/>
<text x="1869.7" y="1212.6" font-size="25">P6</text>
<path d="M1798 1239.86H1848" stroke="#bfbf00" stroke-width="4.17" fill="none"/>
<path d="M1823.3 1227.36V1252.36" stroke="#bfbf00" stroke-width="4.17" fill="none"/>
<circle cx="1823.3" cy="1239.86" r="7.25" fill="#bfbf00"/>
<path d="M1810.8 1227.36h25M1810.8 1252.36h25" stroke="#bfbf00" stroke-width="2.08" fill="none"/>
<text x="1869.7" y="1249.06" font-size="25">P7</text>
<path d="M1798 1276.32H1848" stroke="#ffa500" stroke-width="4.17" fill="none"/>
<path d="M1823.3 1263.82V1288.82" stroke="#ffa500" stroke-width="4.17" fill="none"/>
<circle cx="1823.3" cy="1276.32" r="7.25" fill="#ffa500"/>
<path d="M1810.8 1263.82h25M1810.8 1288.82h25" stroke="#ffa500" stroke-width="2.08" fill="none"/>
<text x="1869.7" y="1285.52" font-size="25">P8</text>
<path d="M1798 1312.78H1848" stroke="#4b0082" stroke-width="4.17" fill="none"/>
<path d="M1823.3 1300.28V1325.28" stroke="#4b0082" stroke-width="4.17" fill="none"/>
<circle cx="1823.3" cy="1312.78" r="7.25" fill="#4b0082"/>
<path d="M1810.8 1300.28h25M1810.8 1325.28h25" stroke="#4b0082" stroke-width="2.08" fill="none"/>
<text x="1869.7" y="1321.98" font-size="25">P9</text>
<path d="M1798 1349.24H1848" stroke="#808080" stroke-width="4.17" fill="none"/>
<path d="M1823.3 1336.74V1361.74" stroke="#808080" stroke-width="4.17" fill="none"/>
<circle cx="1823.3" cy="1349.24" r="7.25" fill="#808080"/>
<path d="M1810.8 1336.74h25M1810.8 1361.74h25" stroke="#808080" stroke-width="2.08" fill="none"/>
<text x="1869.7" y="1358.44" font-size="25">P10</text>
<path d="M1798 1385.7H1848" stroke="#0000ff" stroke-width="4.17" fill="none" stroke-dasharray="8.33 4.17"/>
<path d="M1823.3 1373.2V1398.2" stroke="#0000ff" stroke-width="4.17" fill="none"/>
<circle cx="1823.3" cy="1385.7" r="7.25" fill="#0000ff"/>
<path d="M1810.8 1373.2h25M1810.8 1398.2h25" stroke="#0000ff" stroke-width="2.08" fill="none"/>
<text x="1869.7" y="1394.9" font-size="25">P11</text>
<path d="M1798 1422.16H1848" stroke="#ff0000" stroke-width="4.17" fill="none" stroke-dasharray="8.33 4.17"/>
<path d="M1823.3 1409.66V1434.66" stroke="#ff0000" stroke-width="4.17" fill="none"/>
<circle cx="1823.3" cy="1422.16" r="7.25" fill="#ff0000"/>
<path d="M1810.8 1409.66h25M1810.8 1434.66h25" stroke="#ff0000" stroke-width="2.08" fill="none"/>
<text x="1869.7" y="1431.36" font-size="25">P12</text>
<path d="M1798 1458.62H1848" stroke="#000000" stroke-width="4.17" fill="none" stroke-dasharray="8.33 4.17"/>
<path d="M1823.3 1446.12V1471.12" stroke="#000000" stroke-width="4.17" fill="none"/>
<circle cx="1823.3" cy="1458.62" r="7.25" fill="#000000"/>
<path d="M1810.8 1446.12h25M1810.8 1471.12h25" stroke="#000000" stroke-width="2.08" fill="none"/>
<text x="1869.7" y="1467.82" font-size="25">P13</text>
<path d="M1798 1495.08H1848" stroke="#bf00bf" stroke-width="4.17" fill="none" stroke-dasharray="8.33 4.17"/>
<path d="M1823.3 1482.58V1507.58" stroke="#bf00bf" stroke-width="4.17" fill="none"/>
<circle cx="1823.3" cy="1495.08" r="7.25" fill="#bf00bf"/>
<path d="M1810.8 1482.58h25M1810.8 1507.58h25" stroke="#bf00bf" stroke-width="2.08" fill="none"/>
<text x="1869.7" y="1504.28" font-size="25">P14</text>
<path d="M1798 1531.54H1848" stroke="#00bfbf" stroke-width="4.17" fill="none" stroke-dasharray="8.33 4.17"/>
<path d="M1823.3 1519.04V1544.04" stroke="#00bfbf" stroke-width="4.17" fill="none"/>
<circle cx="1823.3" cy="1531.54" r="7.25" fill="#00bfbf"/>
<path d="M1810.8 1519.04h25M1810.8 1544.04h25" stroke="#00bfbf" stroke-width="2.08" fill="none"/>
<text x="1869.7" y="1540.74" font-size="25">P15</text>
<path d="M1798 1568H1848" stroke="#008000" stroke-width="4.17" fill="none" stroke-dasharray="8.33 4.17"/>
<path d="M1823.3 1555.5V1580.5" stroke="#008000" stroke-width="4.17" fill="none"/>
<circle cx="1823.3" cy="1568" r="7.25" fill="#008000"/>
<path d="M1810.8 1555.5h25M1810.8 1580.5h25" stroke="#008000" stroke-width="2.08" fill="none"/>
<text x="1869.7" y="1577.2" font-size="25">P16</text>
<path d="M1798 1604.46H1848" stroke="#bfbf00" stroke-width="4.17" fill="none" stroke-dasharray="8.33 4.17"/>
<path d="M1823.3 1591.96V1616.96" stroke="#bfbf00" stroke-width="4.17" fill="none"/>
<circle cx="1823.3" cy="1604.46" r="7.25" fill="#bfbf00"/>
<path d="M1810.8 1591.96h25M1810.8 1616.96h25" stroke="#bfbf00" stroke-width="2.08" fill="none"/>
<text x="1869.7" y="1613.66" font-size="25">P17</text>
<path d="M1798 1640.92H1848" stroke="#ffa500" stroke-width="4.17" fill="none" stroke-dasharray="8.33 4.17"/>
<path d="M1823.3 1628.42V1653.42" stroke="#ffa500" stroke-width="4.17" fill="none"/>
<circle cx="1823.3" cy="1640.92" r="7.25" fill="#ffa500"/>
<path d="M1810.8 1628.42h25M1810.8 1653.42h25" stroke="#ffa500" stroke-width="2.08" fill="none"/>
<text x="1869.7" y="1650.12" font-size="25">P18</text>
<path d="M1798 1677.38H1848" stroke="#4b0082" stroke-width="4.17" fill="none" stroke-dasharray="8.33 4.17"/>
<path d="M1823.3 1664.88V1689.88" stroke="#4b0082" stroke-width="4.17" fill="none"/>
<circle cx="1823.3" cy="1677.38" r="7.25" fill="#4b0082"/>
<path d="M1810.8 1664.88h25M1810.8 1689.88h25" stroke="#4b0082" stroke-width="2.08" fill="none"/>
<text x="1869.7" y="1686.58" font-size="25">P19</text>
<path d="M1798 1713.84H1848" stroke="#808080" stroke-width="4.17" fill="none" stroke-dasharray="8.33 4.17"/>
<path d="M1823.3 1701.34V1726.34" stroke="#808080" stroke-width="4.17" fill="none"/>
<circle cx="1823.3" cy="1713.84" r="7.25" fill="#808080"/>
<path d="M1810.8 1701.34h25M1810.8 1726.34h25" stroke="#808080" stroke-width="2.08" fill="none"/>
<text x="1869.7" y="1723.04" font-size="25">P20</text>
</svg></body></html>
